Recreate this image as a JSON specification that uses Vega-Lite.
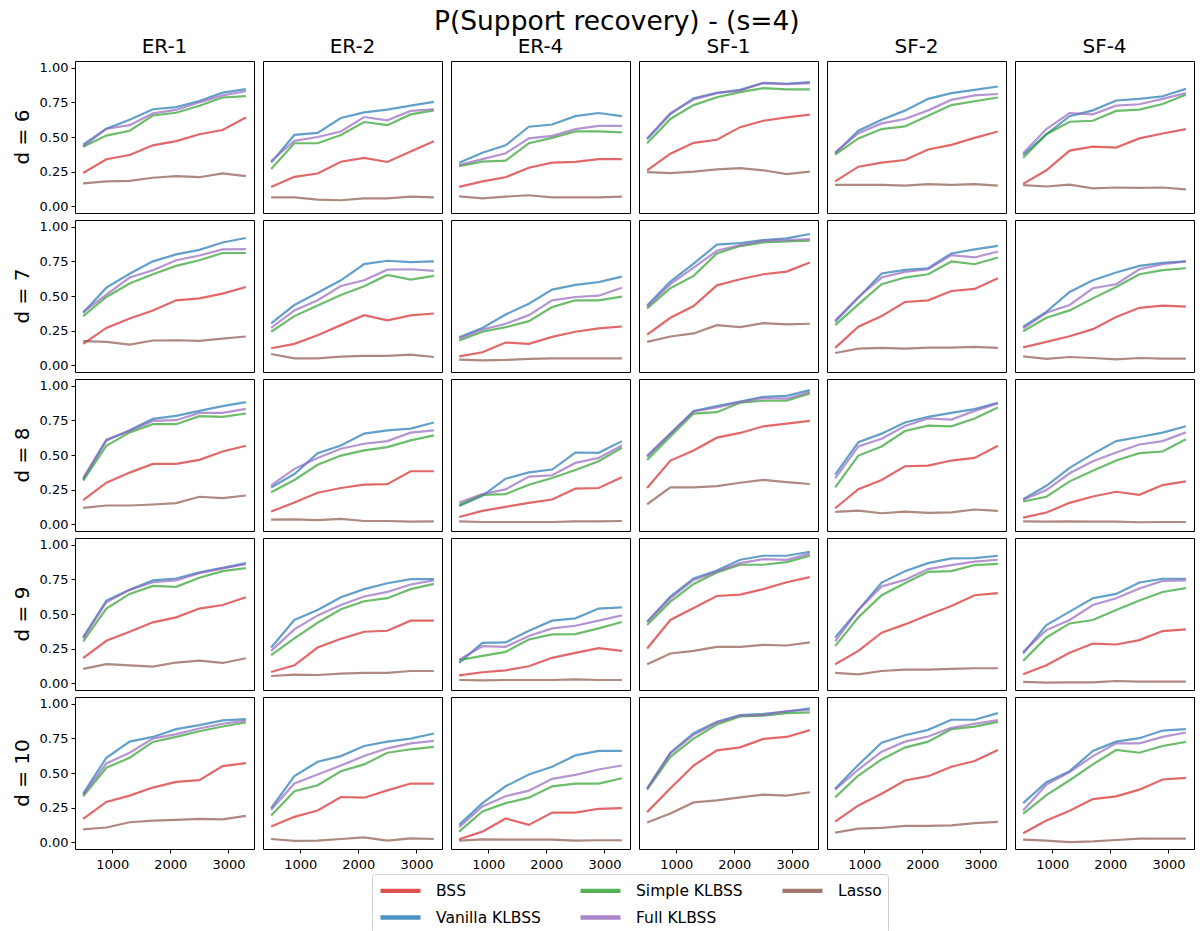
{
"$schema":"https://vega.github.io/schema/vega-lite/v6.json",
"padding":{"left":13,"right":2,"top":8,"bottom":0},
"title":{"text":"P(Support recovery) - (s=4)","fontSize":26.5,"font":"DejaVu Sans","fontWeight":"normal","anchor":"middle","offset":2,"dx":13,"color":"#000"},
"config":{
"font":"DejaVu Sans",
"view":{"stroke":"#000","strokeWidth":1},
"axis":{"grid":false,"domain":false,"tickColor":"#000","labelColor":"#000","labelFont":"DejaVu Sans","labelFontSize":13,"tickSize":4,"labelPadding":3,"title":null},
"header":{"labelFont":"DejaVu Sans","labelFontSize":20,"labelColor":"#000","title":null}
},
"data":{"values":[
{"d":6,"g":"ER-1","m":"BSS","n":500,"p":0.24},{"d":6,"g":"ER-1","m":"BSS","n":900,"p":0.34},{"d":6,"g":"ER-1","m":"BSS","n":1300,"p":0.37},{"d":6,"g":"ER-1","m":"BSS","n":1700,"p":0.44},{"d":6,"g":"ER-1","m":"BSS","n":2100,"p":0.47},{"d":6,"g":"ER-1","m":"BSS","n":2500,"p":0.52},{"d":6,"g":"ER-1","m":"BSS","n":2900,"p":0.55},{"d":6,"g":"ER-1","m":"BSS","n":3300,"p":0.64},
{"d":6,"g":"ER-1","m":"Vanilla KLBSS","n":500,"p":0.445},{"d":6,"g":"ER-1","m":"Vanilla KLBSS","n":900,"p":0.56},{"d":6,"g":"ER-1","m":"Vanilla KLBSS","n":1300,"p":0.625},{"d":6,"g":"ER-1","m":"Vanilla KLBSS","n":1700,"p":0.7},{"d":6,"g":"ER-1","m":"Vanilla KLBSS","n":2100,"p":0.715},{"d":6,"g":"ER-1","m":"Vanilla KLBSS","n":2500,"p":0.76},{"d":6,"g":"ER-1","m":"Vanilla KLBSS","n":2900,"p":0.82},{"d":6,"g":"ER-1","m":"Vanilla KLBSS","n":3300,"p":0.845},
{"d":6,"g":"ER-1","m":"Simple KLBSS","n":500,"p":0.43},{"d":6,"g":"ER-1","m":"Simple KLBSS","n":900,"p":0.51},{"d":6,"g":"ER-1","m":"Simple KLBSS","n":1300,"p":0.545},{"d":6,"g":"ER-1","m":"Simple KLBSS","n":1700,"p":0.655},{"d":6,"g":"ER-1","m":"Simple KLBSS","n":2100,"p":0.675},{"d":6,"g":"ER-1","m":"Simple KLBSS","n":2500,"p":0.725},{"d":6,"g":"ER-1","m":"Simple KLBSS","n":2900,"p":0.785},{"d":6,"g":"ER-1","m":"Simple KLBSS","n":3300,"p":0.795},
{"d":6,"g":"ER-1","m":"Full KLBSS","n":500,"p":0.43},{"d":6,"g":"ER-1","m":"Full KLBSS","n":900,"p":0.56},{"d":6,"g":"ER-1","m":"Full KLBSS","n":1300,"p":0.585},{"d":6,"g":"ER-1","m":"Full KLBSS","n":1700,"p":0.67},{"d":6,"g":"ER-1","m":"Full KLBSS","n":2100,"p":0.695},{"d":6,"g":"ER-1","m":"Full KLBSS","n":2500,"p":0.75},{"d":6,"g":"ER-1","m":"Full KLBSS","n":2900,"p":0.8},{"d":6,"g":"ER-1","m":"Full KLBSS","n":3300,"p":0.83},
{"d":6,"g":"ER-1","m":"Lasso","n":500,"p":0.165},{"d":6,"g":"ER-1","m":"Lasso","n":900,"p":0.18},{"d":6,"g":"ER-1","m":"Lasso","n":1300,"p":0.184},{"d":6,"g":"ER-1","m":"Lasso","n":1700,"p":0.206},{"d":6,"g":"ER-1","m":"Lasso","n":2100,"p":0.218},{"d":6,"g":"ER-1","m":"Lasso","n":2500,"p":0.21},{"d":6,"g":"ER-1","m":"Lasso","n":2900,"p":0.237},{"d":6,"g":"ER-1","m":"Lasso","n":3300,"p":0.218},
{"d":6,"g":"ER-2","m":"BSS","n":500,"p":0.14},{"d":6,"g":"ER-2","m":"BSS","n":900,"p":0.213},{"d":6,"g":"ER-2","m":"BSS","n":1300,"p":0.237},{"d":6,"g":"ER-2","m":"BSS","n":1700,"p":0.322},{"d":6,"g":"ER-2","m":"BSS","n":2100,"p":0.349},{"d":6,"g":"ER-2","m":"BSS","n":2500,"p":0.32},{"d":6,"g":"ER-2","m":"BSS","n":2900,"p":0.395},{"d":6,"g":"ER-2","m":"BSS","n":3300,"p":0.47},
{"d":6,"g":"ER-2","m":"Vanilla KLBSS","n":500,"p":0.315},{"d":6,"g":"ER-2","m":"Vanilla KLBSS","n":900,"p":0.515},{"d":6,"g":"ER-2","m":"Vanilla KLBSS","n":1300,"p":0.53},{"d":6,"g":"ER-2","m":"Vanilla KLBSS","n":1700,"p":0.637},{"d":6,"g":"ER-2","m":"Vanilla KLBSS","n":2100,"p":0.678},{"d":6,"g":"ER-2","m":"Vanilla KLBSS","n":2500,"p":0.697},{"d":6,"g":"ER-2","m":"Vanilla KLBSS","n":2900,"p":0.726},{"d":6,"g":"ER-2","m":"Vanilla KLBSS","n":3300,"p":0.753},
{"d":6,"g":"ER-2","m":"Simple KLBSS","n":500,"p":0.27},{"d":6,"g":"ER-2","m":"Simple KLBSS","n":900,"p":0.455},{"d":6,"g":"ER-2","m":"Simple KLBSS","n":1300,"p":0.455},{"d":6,"g":"ER-2","m":"Simple KLBSS","n":1700,"p":0.515},{"d":6,"g":"ER-2","m":"Simple KLBSS","n":2100,"p":0.608},{"d":6,"g":"ER-2","m":"Simple KLBSS","n":2500,"p":0.585},{"d":6,"g":"ER-2","m":"Simple KLBSS","n":2900,"p":0.663},{"d":6,"g":"ER-2","m":"Simple KLBSS","n":3300,"p":0.692},
{"d":6,"g":"ER-2","m":"Full KLBSS","n":500,"p":0.327},{"d":6,"g":"ER-2","m":"Full KLBSS","n":900,"p":0.472},{"d":6,"g":"ER-2","m":"Full KLBSS","n":1300,"p":0.5},{"d":6,"g":"ER-2","m":"Full KLBSS","n":1700,"p":0.54},{"d":6,"g":"ER-2","m":"Full KLBSS","n":2100,"p":0.644},{"d":6,"g":"ER-2","m":"Full KLBSS","n":2500,"p":0.62},{"d":6,"g":"ER-2","m":"Full KLBSS","n":2900,"p":0.688},{"d":6,"g":"ER-2","m":"Full KLBSS","n":3300,"p":0.7},
{"d":6,"g":"ER-2","m":"Lasso","n":500,"p":0.065},{"d":6,"g":"ER-2","m":"Lasso","n":900,"p":0.065},{"d":6,"g":"ER-2","m":"Lasso","n":1300,"p":0.048},{"d":6,"g":"ER-2","m":"Lasso","n":1700,"p":0.044},{"d":6,"g":"ER-2","m":"Lasso","n":2100,"p":0.058},{"d":6,"g":"ER-2","m":"Lasso","n":2500,"p":0.058},{"d":6,"g":"ER-2","m":"Lasso","n":2900,"p":0.07},{"d":6,"g":"ER-2","m":"Lasso","n":3300,"p":0.065},
{"d":6,"g":"ER-4","m":"BSS","n":500,"p":0.14},{"d":6,"g":"ER-4","m":"BSS","n":900,"p":0.18},{"d":6,"g":"ER-4","m":"BSS","n":1300,"p":0.21},{"d":6,"g":"ER-4","m":"BSS","n":1700,"p":0.278},{"d":6,"g":"ER-4","m":"BSS","n":2100,"p":0.315},{"d":6,"g":"ER-4","m":"BSS","n":2500,"p":0.32},{"d":6,"g":"ER-4","m":"BSS","n":2900,"p":0.341},{"d":6,"g":"ER-4","m":"BSS","n":3300,"p":0.341},
{"d":6,"g":"ER-4","m":"Vanilla KLBSS","n":500,"p":0.315},{"d":6,"g":"ER-4","m":"Vanilla KLBSS","n":900,"p":0.387},{"d":6,"g":"ER-4","m":"Vanilla KLBSS","n":1300,"p":0.44},{"d":6,"g":"ER-4","m":"Vanilla KLBSS","n":1700,"p":0.574},{"d":6,"g":"ER-4","m":"Vanilla KLBSS","n":2100,"p":0.59},{"d":6,"g":"ER-4","m":"Vanilla KLBSS","n":2500,"p":0.65},{"d":6,"g":"ER-4","m":"Vanilla KLBSS","n":2900,"p":0.673},{"d":6,"g":"ER-4","m":"Vanilla KLBSS","n":3300,"p":0.65},
{"d":6,"g":"ER-4","m":"Simple KLBSS","n":500,"p":0.29},{"d":6,"g":"ER-4","m":"Simple KLBSS","n":900,"p":0.322},{"d":6,"g":"ER-4","m":"Simple KLBSS","n":1300,"p":0.33},{"d":6,"g":"ER-4","m":"Simple KLBSS","n":1700,"p":0.455},{"d":6,"g":"ER-4","m":"Simple KLBSS","n":2100,"p":0.494},{"d":6,"g":"ER-4","m":"Simple KLBSS","n":2500,"p":0.54},{"d":6,"g":"ER-4","m":"Simple KLBSS","n":2900,"p":0.54},{"d":6,"g":"ER-4","m":"Simple KLBSS","n":3300,"p":0.533},
{"d":6,"g":"ER-4","m":"Full KLBSS","n":500,"p":0.298},{"d":6,"g":"ER-4","m":"Full KLBSS","n":900,"p":0.34},{"d":6,"g":"ER-4","m":"Full KLBSS","n":1300,"p":0.383},{"d":6,"g":"ER-4","m":"Full KLBSS","n":1700,"p":0.49},{"d":6,"g":"ER-4","m":"Full KLBSS","n":2100,"p":0.508},{"d":6,"g":"ER-4","m":"Full KLBSS","n":2500,"p":0.557},{"d":6,"g":"ER-4","m":"Full KLBSS","n":2900,"p":0.58},{"d":6,"g":"ER-4","m":"Full KLBSS","n":3300,"p":0.58},
{"d":6,"g":"ER-4","m":"Lasso","n":500,"p":0.072},{"d":6,"g":"ER-4","m":"Lasso","n":900,"p":0.058},{"d":6,"g":"ER-4","m":"Lasso","n":1300,"p":0.07},{"d":6,"g":"ER-4","m":"Lasso","n":1700,"p":0.08},{"d":6,"g":"ER-4","m":"Lasso","n":2100,"p":0.065},{"d":6,"g":"ER-4","m":"Lasso","n":2500,"p":0.065},{"d":6,"g":"ER-4","m":"Lasso","n":2900,"p":0.065},{"d":6,"g":"ER-4","m":"Lasso","n":3300,"p":0.07},
{"d":6,"g":"SF-1","m":"BSS","n":500,"p":0.26},{"d":6,"g":"SF-1","m":"BSS","n":900,"p":0.38},{"d":6,"g":"SF-1","m":"BSS","n":1300,"p":0.458},{"d":6,"g":"SF-1","m":"BSS","n":1700,"p":0.48},{"d":6,"g":"SF-1","m":"BSS","n":2100,"p":0.571},{"d":6,"g":"SF-1","m":"BSS","n":2500,"p":0.617},{"d":6,"g":"SF-1","m":"BSS","n":2900,"p":0.642},{"d":6,"g":"SF-1","m":"BSS","n":3300,"p":0.661},
{"d":6,"g":"SF-1","m":"Vanilla KLBSS","n":500,"p":0.484},{"d":6,"g":"SF-1","m":"Vanilla KLBSS","n":900,"p":0.666},{"d":6,"g":"SF-1","m":"Vanilla KLBSS","n":1300,"p":0.78},{"d":6,"g":"SF-1","m":"Vanilla KLBSS","n":1700,"p":0.818},{"d":6,"g":"SF-1","m":"Vanilla KLBSS","n":2100,"p":0.84},{"d":6,"g":"SF-1","m":"Vanilla KLBSS","n":2500,"p":0.89},{"d":6,"g":"SF-1","m":"Vanilla KLBSS","n":2900,"p":0.884},{"d":6,"g":"SF-1","m":"Vanilla KLBSS","n":3300,"p":0.896},
{"d":6,"g":"SF-1","m":"Simple KLBSS","n":500,"p":0.455},{"d":6,"g":"SF-1","m":"Simple KLBSS","n":900,"p":0.63},{"d":6,"g":"SF-1","m":"Simple KLBSS","n":1300,"p":0.73},{"d":6,"g":"SF-1","m":"Simple KLBSS","n":1700,"p":0.787},{"d":6,"g":"SF-1","m":"Simple KLBSS","n":2100,"p":0.823},{"d":6,"g":"SF-1","m":"Simple KLBSS","n":2500,"p":0.852},{"d":6,"g":"SF-1","m":"Simple KLBSS","n":2900,"p":0.843},{"d":6,"g":"SF-1","m":"Simple KLBSS","n":3300,"p":0.843},
{"d":6,"g":"SF-1","m":"Full KLBSS","n":500,"p":0.49},{"d":6,"g":"SF-1","m":"Full KLBSS","n":900,"p":0.673},{"d":6,"g":"SF-1","m":"Full KLBSS","n":1300,"p":0.77},{"d":6,"g":"SF-1","m":"Full KLBSS","n":1700,"p":0.816},{"d":6,"g":"SF-1","m":"Full KLBSS","n":2100,"p":0.835},{"d":6,"g":"SF-1","m":"Full KLBSS","n":2500,"p":0.889},{"d":6,"g":"SF-1","m":"Full KLBSS","n":2900,"p":0.881},{"d":6,"g":"SF-1","m":"Full KLBSS","n":3300,"p":0.889},
{"d":6,"g":"SF-1","m":"Lasso","n":500,"p":0.247},{"d":6,"g":"SF-1","m":"Lasso","n":900,"p":0.24},{"d":6,"g":"SF-1","m":"Lasso","n":1300,"p":0.25},{"d":6,"g":"SF-1","m":"Lasso","n":1700,"p":0.266},{"d":6,"g":"SF-1","m":"Lasso","n":2100,"p":0.276},{"d":6,"g":"SF-1","m":"Lasso","n":2500,"p":0.26},{"d":6,"g":"SF-1","m":"Lasso","n":2900,"p":0.232},{"d":6,"g":"SF-1","m":"Lasso","n":3300,"p":0.25},
{"d":6,"g":"SF-2","m":"BSS","n":500,"p":0.18},{"d":6,"g":"SF-2","m":"BSS","n":900,"p":0.286},{"d":6,"g":"SF-2","m":"BSS","n":1300,"p":0.315},{"d":6,"g":"SF-2","m":"BSS","n":1700,"p":0.334},{"d":6,"g":"SF-2","m":"BSS","n":2100,"p":0.41},{"d":6,"g":"SF-2","m":"BSS","n":2500,"p":0.443},{"d":6,"g":"SF-2","m":"BSS","n":2900,"p":0.494},{"d":6,"g":"SF-2","m":"BSS","n":3300,"p":0.54},
{"d":6,"g":"SF-2","m":"Vanilla KLBSS","n":500,"p":0.383},{"d":6,"g":"SF-2","m":"Vanilla KLBSS","n":900,"p":0.545},{"d":6,"g":"SF-2","m":"Vanilla KLBSS","n":1300,"p":0.625},{"d":6,"g":"SF-2","m":"Vanilla KLBSS","n":1700,"p":0.69},{"d":6,"g":"SF-2","m":"Vanilla KLBSS","n":2100,"p":0.775},{"d":6,"g":"SF-2","m":"Vanilla KLBSS","n":2500,"p":0.816},{"d":6,"g":"SF-2","m":"Vanilla KLBSS","n":2900,"p":0.84},{"d":6,"g":"SF-2","m":"Vanilla KLBSS","n":3300,"p":0.864},
{"d":6,"g":"SF-2","m":"Simple KLBSS","n":500,"p":0.373},{"d":6,"g":"SF-2","m":"Simple KLBSS","n":900,"p":0.49},{"d":6,"g":"SF-2","m":"Simple KLBSS","n":1300,"p":0.557},{"d":6,"g":"SF-2","m":"Simple KLBSS","n":1700,"p":0.576},{"d":6,"g":"SF-2","m":"Simple KLBSS","n":2100,"p":0.654},{"d":6,"g":"SF-2","m":"Simple KLBSS","n":2500,"p":0.73},{"d":6,"g":"SF-2","m":"Simple KLBSS","n":2900,"p":0.758},{"d":6,"g":"SF-2","m":"Simple KLBSS","n":3300,"p":0.785},
{"d":6,"g":"SF-2","m":"Full KLBSS","n":500,"p":0.387},{"d":6,"g":"SF-2","m":"Full KLBSS","n":900,"p":0.528},{"d":6,"g":"SF-2","m":"Full KLBSS","n":1300,"p":0.598},{"d":6,"g":"SF-2","m":"Full KLBSS","n":1700,"p":0.63},{"d":6,"g":"SF-2","m":"Full KLBSS","n":2100,"p":0.692},{"d":6,"g":"SF-2","m":"Full KLBSS","n":2500,"p":0.768},{"d":6,"g":"SF-2","m":"Full KLBSS","n":2900,"p":0.8},{"d":6,"g":"SF-2","m":"Full KLBSS","n":3300,"p":0.81},
{"d":6,"g":"SF-2","m":"Lasso","n":500,"p":0.155},{"d":6,"g":"SF-2","m":"Lasso","n":900,"p":0.155},{"d":6,"g":"SF-2","m":"Lasso","n":1300,"p":0.155},{"d":6,"g":"SF-2","m":"Lasso","n":1700,"p":0.15},{"d":6,"g":"SF-2","m":"Lasso","n":2100,"p":0.16},{"d":6,"g":"SF-2","m":"Lasso","n":2500,"p":0.155},{"d":6,"g":"SF-2","m":"Lasso","n":2900,"p":0.16},{"d":6,"g":"SF-2","m":"Lasso","n":3300,"p":0.15},
{"d":6,"g":"SF-4","m":"BSS","n":500,"p":0.162},{"d":6,"g":"SF-4","m":"BSS","n":900,"p":0.26},{"d":6,"g":"SF-4","m":"BSS","n":1300,"p":0.402},{"d":6,"g":"SF-4","m":"BSS","n":1700,"p":0.43},{"d":6,"g":"SF-4","m":"BSS","n":2100,"p":0.424},{"d":6,"g":"SF-4","m":"BSS","n":2500,"p":0.49},{"d":6,"g":"SF-4","m":"BSS","n":2900,"p":0.525},{"d":6,"g":"SF-4","m":"BSS","n":3300,"p":0.557},
{"d":6,"g":"SF-4","m":"Vanilla KLBSS","n":500,"p":0.37},{"d":6,"g":"SF-4","m":"Vanilla KLBSS","n":900,"p":0.52},{"d":6,"g":"SF-4","m":"Vanilla KLBSS","n":1300,"p":0.65},{"d":6,"g":"SF-4","m":"Vanilla KLBSS","n":1700,"p":0.692},{"d":6,"g":"SF-4","m":"Vanilla KLBSS","n":2100,"p":0.763},{"d":6,"g":"SF-4","m":"Vanilla KLBSS","n":2500,"p":0.775},{"d":6,"g":"SF-4","m":"Vanilla KLBSS","n":2900,"p":0.794},{"d":6,"g":"SF-4","m":"Vanilla KLBSS","n":3300,"p":0.847},
{"d":6,"g":"SF-4","m":"Simple KLBSS","n":500,"p":0.351},{"d":6,"g":"SF-4","m":"Simple KLBSS","n":900,"p":0.52},{"d":6,"g":"SF-4","m":"Simple KLBSS","n":1300,"p":0.61},{"d":6,"g":"SF-4","m":"Simple KLBSS","n":1700,"p":0.617},{"d":6,"g":"SF-4","m":"Simple KLBSS","n":2100,"p":0.688},{"d":6,"g":"SF-4","m":"Simple KLBSS","n":2500,"p":0.697},{"d":6,"g":"SF-4","m":"Simple KLBSS","n":2900,"p":0.738},{"d":6,"g":"SF-4","m":"Simple KLBSS","n":3300,"p":0.804},
{"d":6,"g":"SF-4","m":"Full KLBSS","n":500,"p":0.383},{"d":6,"g":"SF-4","m":"Full KLBSS","n":900,"p":0.557},{"d":6,"g":"SF-4","m":"Full KLBSS","n":1300,"p":0.673},{"d":6,"g":"SF-4","m":"Full KLBSS","n":1700,"p":0.663},{"d":6,"g":"SF-4","m":"Full KLBSS","n":2100,"p":0.726},{"d":6,"g":"SF-4","m":"Full KLBSS","n":2500,"p":0.736},{"d":6,"g":"SF-4","m":"Full KLBSS","n":2900,"p":0.775},{"d":6,"g":"SF-4","m":"Full KLBSS","n":3300,"p":0.816},
{"d":6,"g":"SF-4","m":"Lasso","n":500,"p":0.153},{"d":6,"g":"SF-4","m":"Lasso","n":900,"p":0.143},{"d":6,"g":"SF-4","m":"Lasso","n":1300,"p":0.157},{"d":6,"g":"SF-4","m":"Lasso","n":1700,"p":0.13},{"d":6,"g":"SF-4","m":"Lasso","n":2100,"p":0.136},{"d":6,"g":"SF-4","m":"Lasso","n":2500,"p":0.133},{"d":6,"g":"SF-4","m":"Lasso","n":2900,"p":0.136},{"d":6,"g":"SF-4","m":"Lasso","n":3300,"p":0.123},
{"d":7,"g":"ER-1","m":"BSS","n":500,"p":0.155},{"d":7,"g":"ER-1","m":"BSS","n":900,"p":0.27},{"d":7,"g":"ER-1","m":"BSS","n":1300,"p":0.338},{"d":7,"g":"ER-1","m":"BSS","n":1700,"p":0.396},{"d":7,"g":"ER-1","m":"BSS","n":2100,"p":0.469},{"d":7,"g":"ER-1","m":"BSS","n":2500,"p":0.483},{"d":7,"g":"ER-1","m":"BSS","n":2900,"p":0.517},{"d":7,"g":"ER-1","m":"BSS","n":3300,"p":0.565},
{"d":7,"g":"ER-1","m":"Vanilla KLBSS","n":500,"p":0.38},{"d":7,"g":"ER-1","m":"Vanilla KLBSS","n":900,"p":0.56},{"d":7,"g":"ER-1","m":"Vanilla KLBSS","n":1300,"p":0.66},{"d":7,"g":"ER-1","m":"Vanilla KLBSS","n":1700,"p":0.75},{"d":7,"g":"ER-1","m":"Vanilla KLBSS","n":2100,"p":0.8},{"d":7,"g":"ER-1","m":"Vanilla KLBSS","n":2500,"p":0.833},{"d":7,"g":"ER-1","m":"Vanilla KLBSS","n":2900,"p":0.886},{"d":7,"g":"ER-1","m":"Vanilla KLBSS","n":3300,"p":0.918},
{"d":7,"g":"ER-1","m":"Simple KLBSS","n":500,"p":0.355},{"d":7,"g":"ER-1","m":"Simple KLBSS","n":900,"p":0.493},{"d":7,"g":"ER-1","m":"Simple KLBSS","n":1300,"p":0.59},{"d":7,"g":"ER-1","m":"Simple KLBSS","n":1700,"p":0.657},{"d":7,"g":"ER-1","m":"Simple KLBSS","n":2100,"p":0.717},{"d":7,"g":"ER-1","m":"Simple KLBSS","n":2500,"p":0.758},{"d":7,"g":"ER-1","m":"Simple KLBSS","n":2900,"p":0.81},{"d":7,"g":"ER-1","m":"Simple KLBSS","n":3300,"p":0.81},
{"d":7,"g":"ER-1","m":"Full KLBSS","n":500,"p":0.384},{"d":7,"g":"ER-1","m":"Full KLBSS","n":900,"p":0.51},{"d":7,"g":"ER-1","m":"Full KLBSS","n":1300,"p":0.633},{"d":7,"g":"ER-1","m":"Full KLBSS","n":1700,"p":0.686},{"d":7,"g":"ER-1","m":"Full KLBSS","n":2100,"p":0.758},{"d":7,"g":"ER-1","m":"Full KLBSS","n":2500,"p":0.792},{"d":7,"g":"ER-1","m":"Full KLBSS","n":2900,"p":0.836},{"d":7,"g":"ER-1","m":"Full KLBSS","n":3300,"p":0.838},
{"d":7,"g":"ER-1","m":"Lasso","n":500,"p":0.174},{"d":7,"g":"ER-1","m":"Lasso","n":900,"p":0.169},{"d":7,"g":"ER-1","m":"Lasso","n":1300,"p":0.15},{"d":7,"g":"ER-1","m":"Lasso","n":1700,"p":0.179},{"d":7,"g":"ER-1","m":"Lasso","n":2100,"p":0.181},{"d":7,"g":"ER-1","m":"Lasso","n":2500,"p":0.176},{"d":7,"g":"ER-1","m":"Lasso","n":2900,"p":0.193},{"d":7,"g":"ER-1","m":"Lasso","n":3300,"p":0.208},
{"d":7,"g":"ER-2","m":"BSS","n":500,"p":0.123},{"d":7,"g":"ER-2","m":"BSS","n":900,"p":0.155},{"d":7,"g":"ER-2","m":"BSS","n":1300,"p":0.217},{"d":7,"g":"ER-2","m":"BSS","n":1700,"p":0.29},{"d":7,"g":"ER-2","m":"BSS","n":2100,"p":0.362},{"d":7,"g":"ER-2","m":"BSS","n":2500,"p":0.324},{"d":7,"g":"ER-2","m":"BSS","n":2900,"p":0.36},{"d":7,"g":"ER-2","m":"BSS","n":3300,"p":0.374},
{"d":7,"g":"ER-2","m":"Vanilla KLBSS","n":500,"p":0.302},{"d":7,"g":"ER-2","m":"Vanilla KLBSS","n":900,"p":0.435},{"d":7,"g":"ER-2","m":"Vanilla KLBSS","n":1300,"p":0.524},{"d":7,"g":"ER-2","m":"Vanilla KLBSS","n":1700,"p":0.613},{"d":7,"g":"ER-2","m":"Vanilla KLBSS","n":2100,"p":0.73},{"d":7,"g":"ER-2","m":"Vanilla KLBSS","n":2500,"p":0.754},{"d":7,"g":"ER-2","m":"Vanilla KLBSS","n":2900,"p":0.744},{"d":7,"g":"ER-2","m":"Vanilla KLBSS","n":3300,"p":0.749},
{"d":7,"g":"ER-2","m":"Simple KLBSS","n":500,"p":0.242},{"d":7,"g":"ER-2","m":"Simple KLBSS","n":900,"p":0.355},{"d":7,"g":"ER-2","m":"Simple KLBSS","n":1300,"p":0.432},{"d":7,"g":"ER-2","m":"Simple KLBSS","n":1700,"p":0.507},{"d":7,"g":"ER-2","m":"Simple KLBSS","n":2100,"p":0.57},{"d":7,"g":"ER-2","m":"Simple KLBSS","n":2500,"p":0.652},{"d":7,"g":"ER-2","m":"Simple KLBSS","n":2900,"p":0.618},{"d":7,"g":"ER-2","m":"Simple KLBSS","n":3300,"p":0.645},
{"d":7,"g":"ER-2","m":"Full KLBSS","n":500,"p":0.27},{"d":7,"g":"ER-2","m":"Full KLBSS","n":900,"p":0.396},{"d":7,"g":"ER-2","m":"Full KLBSS","n":1300,"p":0.469},{"d":7,"g":"ER-2","m":"Full KLBSS","n":1700,"p":0.572},{"d":7,"g":"ER-2","m":"Full KLBSS","n":2100,"p":0.613},{"d":7,"g":"ER-2","m":"Full KLBSS","n":2500,"p":0.69},{"d":7,"g":"ER-2","m":"Full KLBSS","n":2900,"p":0.693},{"d":7,"g":"ER-2","m":"Full KLBSS","n":3300,"p":0.681},
{"d":7,"g":"ER-2","m":"Lasso","n":500,"p":0.082},{"d":7,"g":"ER-2","m":"Lasso","n":900,"p":0.05},{"d":7,"g":"ER-2","m":"Lasso","n":1300,"p":0.05},{"d":7,"g":"ER-2","m":"Lasso","n":1700,"p":0.063},{"d":7,"g":"ER-2","m":"Lasso","n":2100,"p":0.068},{"d":7,"g":"ER-2","m":"Lasso","n":2500,"p":0.068},{"d":7,"g":"ER-2","m":"Lasso","n":2900,"p":0.077},{"d":7,"g":"ER-2","m":"Lasso","n":3300,"p":0.06},
{"d":7,"g":"ER-4","m":"BSS","n":500,"p":0.065},{"d":7,"g":"ER-4","m":"BSS","n":900,"p":0.094},{"d":7,"g":"ER-4","m":"BSS","n":1300,"p":0.164},{"d":7,"g":"ER-4","m":"BSS","n":1700,"p":0.155},{"d":7,"g":"ER-4","m":"BSS","n":2100,"p":0.205},{"d":7,"g":"ER-4","m":"BSS","n":2500,"p":0.242},{"d":7,"g":"ER-4","m":"BSS","n":2900,"p":0.266},{"d":7,"g":"ER-4","m":"BSS","n":3300,"p":0.28},
{"d":7,"g":"ER-4","m":"Vanilla KLBSS","n":500,"p":0.203},{"d":7,"g":"ER-4","m":"Vanilla KLBSS","n":900,"p":0.27},{"d":7,"g":"ER-4","m":"Vanilla KLBSS","n":1300,"p":0.367},{"d":7,"g":"ER-4","m":"Vanilla KLBSS","n":1700,"p":0.444},{"d":7,"g":"ER-4","m":"Vanilla KLBSS","n":2100,"p":0.546},{"d":7,"g":"ER-4","m":"Vanilla KLBSS","n":2500,"p":0.58},{"d":7,"g":"ER-4","m":"Vanilla KLBSS","n":2900,"p":0.6},{"d":7,"g":"ER-4","m":"Vanilla KLBSS","n":3300,"p":0.64},
{"d":7,"g":"ER-4","m":"Simple KLBSS","n":500,"p":0.179},{"d":7,"g":"ER-4","m":"Simple KLBSS","n":900,"p":0.242},{"d":7,"g":"ER-4","m":"Simple KLBSS","n":1300,"p":0.275},{"d":7,"g":"ER-4","m":"Simple KLBSS","n":1700,"p":0.319},{"d":7,"g":"ER-4","m":"Simple KLBSS","n":2100,"p":0.42},{"d":7,"g":"ER-4","m":"Simple KLBSS","n":2500,"p":0.469},{"d":7,"g":"ER-4","m":"Simple KLBSS","n":2900,"p":0.469},{"d":7,"g":"ER-4","m":"Simple KLBSS","n":3300,"p":0.495},
{"d":7,"g":"ER-4","m":"Full KLBSS","n":500,"p":0.193},{"d":7,"g":"ER-4","m":"Full KLBSS","n":900,"p":0.258},{"d":7,"g":"ER-4","m":"Full KLBSS","n":1300,"p":0.3},{"d":7,"g":"ER-4","m":"Full KLBSS","n":1700,"p":0.362},{"d":7,"g":"ER-4","m":"Full KLBSS","n":2100,"p":0.469},{"d":7,"g":"ER-4","m":"Full KLBSS","n":2500,"p":0.493},{"d":7,"g":"ER-4","m":"Full KLBSS","n":2900,"p":0.502},{"d":7,"g":"ER-4","m":"Full KLBSS","n":3300,"p":0.56},
{"d":7,"g":"ER-4","m":"Lasso","n":500,"p":0.041},{"d":7,"g":"ER-4","m":"Lasso","n":900,"p":0.036},{"d":7,"g":"ER-4","m":"Lasso","n":1300,"p":0.039},{"d":7,"g":"ER-4","m":"Lasso","n":1700,"p":0.046},{"d":7,"g":"ER-4","m":"Lasso","n":2100,"p":0.05},{"d":7,"g":"ER-4","m":"Lasso","n":2500,"p":0.05},{"d":7,"g":"ER-4","m":"Lasso","n":2900,"p":0.05},{"d":7,"g":"ER-4","m":"Lasso","n":3300,"p":0.05},
{"d":7,"g":"SF-1","m":"BSS","n":500,"p":0.222},{"d":7,"g":"SF-1","m":"BSS","n":900,"p":0.343},{"d":7,"g":"SF-1","m":"BSS","n":1300,"p":0.428},{"d":7,"g":"SF-1","m":"BSS","n":1700,"p":0.577},{"d":7,"g":"SF-1","m":"BSS","n":2100,"p":0.621},{"d":7,"g":"SF-1","m":"BSS","n":2500,"p":0.657},{"d":7,"g":"SF-1","m":"BSS","n":2900,"p":0.676},{"d":7,"g":"SF-1","m":"BSS","n":3300,"p":0.742},
{"d":7,"g":"SF-1","m":"Vanilla KLBSS","n":500,"p":0.432},{"d":7,"g":"SF-1","m":"Vanilla KLBSS","n":900,"p":0.604},{"d":7,"g":"SF-1","m":"Vanilla KLBSS","n":1300,"p":0.734},{"d":7,"g":"SF-1","m":"Vanilla KLBSS","n":1700,"p":0.87},{"d":7,"g":"SF-1","m":"Vanilla KLBSS","n":2100,"p":0.882},{"d":7,"g":"SF-1","m":"Vanilla KLBSS","n":2500,"p":0.903},{"d":7,"g":"SF-1","m":"Vanilla KLBSS","n":2900,"p":0.915},{"d":7,"g":"SF-1","m":"Vanilla KLBSS","n":3300,"p":0.947},
{"d":7,"g":"SF-1","m":"Simple KLBSS","n":500,"p":0.411},{"d":7,"g":"SF-1","m":"Simple KLBSS","n":900,"p":0.556},{"d":7,"g":"SF-1","m":"Simple KLBSS","n":1300,"p":0.645},{"d":7,"g":"SF-1","m":"Simple KLBSS","n":1700,"p":0.807},{"d":7,"g":"SF-1","m":"Simple KLBSS","n":2100,"p":0.86},{"d":7,"g":"SF-1","m":"Simple KLBSS","n":2500,"p":0.886},{"d":7,"g":"SF-1","m":"Simple KLBSS","n":2900,"p":0.894},{"d":7,"g":"SF-1","m":"Simple KLBSS","n":3300,"p":0.899},
{"d":7,"g":"SF-1","m":"Full KLBSS","n":500,"p":0.423},{"d":7,"g":"SF-1","m":"Full KLBSS","n":900,"p":0.585},{"d":7,"g":"SF-1","m":"Full KLBSS","n":1300,"p":0.705},{"d":7,"g":"SF-1","m":"Full KLBSS","n":1700,"p":0.826},{"d":7,"g":"SF-1","m":"Full KLBSS","n":2100,"p":0.867},{"d":7,"g":"SF-1","m":"Full KLBSS","n":2500,"p":0.899},{"d":7,"g":"SF-1","m":"Full KLBSS","n":2900,"p":0.903},{"d":7,"g":"SF-1","m":"Full KLBSS","n":3300,"p":0.911},
{"d":7,"g":"SF-1","m":"Lasso","n":500,"p":0.169},{"d":7,"g":"SF-1","m":"Lasso","n":900,"p":0.208},{"d":7,"g":"SF-1","m":"Lasso","n":1300,"p":0.23},{"d":7,"g":"SF-1","m":"Lasso","n":1700,"p":0.29},{"d":7,"g":"SF-1","m":"Lasso","n":2100,"p":0.275},{"d":7,"g":"SF-1","m":"Lasso","n":2500,"p":0.304},{"d":7,"g":"SF-1","m":"Lasso","n":2900,"p":0.295},{"d":7,"g":"SF-1","m":"Lasso","n":3300,"p":0.3},
{"d":7,"g":"SF-2","m":"BSS","n":500,"p":0.126},{"d":7,"g":"SF-2","m":"BSS","n":900,"p":0.278},{"d":7,"g":"SF-2","m":"BSS","n":1300,"p":0.355},{"d":7,"g":"SF-2","m":"BSS","n":1700,"p":0.457},{"d":7,"g":"SF-2","m":"BSS","n":2100,"p":0.469},{"d":7,"g":"SF-2","m":"BSS","n":2500,"p":0.536},{"d":7,"g":"SF-2","m":"BSS","n":2900,"p":0.551},{"d":7,"g":"SF-2","m":"BSS","n":3300,"p":0.628},
{"d":7,"g":"SF-2","m":"Vanilla KLBSS","n":500,"p":0.314},{"d":7,"g":"SF-2","m":"Vanilla KLBSS","n":900,"p":0.488},{"d":7,"g":"SF-2","m":"Vanilla KLBSS","n":1300,"p":0.662},{"d":7,"g":"SF-2","m":"Vanilla KLBSS","n":1700,"p":0.688},{"d":7,"g":"SF-2","m":"Vanilla KLBSS","n":2100,"p":0.7},{"d":7,"g":"SF-2","m":"Vanilla KLBSS","n":2500,"p":0.807},{"d":7,"g":"SF-2","m":"Vanilla KLBSS","n":2900,"p":0.836},{"d":7,"g":"SF-2","m":"Vanilla KLBSS","n":3300,"p":0.862},
{"d":7,"g":"SF-2","m":"Simple KLBSS","n":500,"p":0.29},{"d":7,"g":"SF-2","m":"Simple KLBSS","n":900,"p":0.44},{"d":7,"g":"SF-2","m":"Simple KLBSS","n":1300,"p":0.585},{"d":7,"g":"SF-2","m":"Simple KLBSS","n":1700,"p":0.633},{"d":7,"g":"SF-2","m":"Simple KLBSS","n":2100,"p":0.657},{"d":7,"g":"SF-2","m":"Simple KLBSS","n":2500,"p":0.749},{"d":7,"g":"SF-2","m":"Simple KLBSS","n":2900,"p":0.729},{"d":7,"g":"SF-2","m":"Simple KLBSS","n":3300,"p":0.778},
{"d":7,"g":"SF-2","m":"Full KLBSS","n":500,"p":0.324},{"d":7,"g":"SF-2","m":"Full KLBSS","n":900,"p":0.493},{"d":7,"g":"SF-2","m":"Full KLBSS","n":1300,"p":0.633},{"d":7,"g":"SF-2","m":"Full KLBSS","n":1700,"p":0.674},{"d":7,"g":"SF-2","m":"Full KLBSS","n":2100,"p":0.693},{"d":7,"g":"SF-2","m":"Full KLBSS","n":2500,"p":0.795},{"d":7,"g":"SF-2","m":"Full KLBSS","n":2900,"p":0.778},{"d":7,"g":"SF-2","m":"Full KLBSS","n":3300,"p":0.821},
{"d":7,"g":"SF-2","m":"Lasso","n":500,"p":0.089},{"d":7,"g":"SF-2","m":"Lasso","n":900,"p":0.121},{"d":7,"g":"SF-2","m":"Lasso","n":1300,"p":0.126},{"d":7,"g":"SF-2","m":"Lasso","n":1700,"p":0.121},{"d":7,"g":"SF-2","m":"Lasso","n":2100,"p":0.128},{"d":7,"g":"SF-2","m":"Lasso","n":2500,"p":0.128},{"d":7,"g":"SF-2","m":"Lasso","n":2900,"p":0.133},{"d":7,"g":"SF-2","m":"Lasso","n":3300,"p":0.126},
{"d":7,"g":"SF-4","m":"BSS","n":500,"p":0.13},{"d":7,"g":"SF-4","m":"BSS","n":900,"p":0.169},{"d":7,"g":"SF-4","m":"BSS","n":1300,"p":0.21},{"d":7,"g":"SF-4","m":"BSS","n":1700,"p":0.261},{"d":7,"g":"SF-4","m":"BSS","n":2100,"p":0.348},{"d":7,"g":"SF-4","m":"BSS","n":2500,"p":0.415},{"d":7,"g":"SF-4","m":"BSS","n":2900,"p":0.43},{"d":7,"g":"SF-4","m":"BSS","n":3300,"p":0.423},
{"d":7,"g":"SF-4","m":"Vanilla KLBSS","n":500,"p":0.278},{"d":7,"g":"SF-4","m":"Vanilla KLBSS","n":900,"p":0.386},{"d":7,"g":"SF-4","m":"Vanilla KLBSS","n":1300,"p":0.529},{"d":7,"g":"SF-4","m":"Vanilla KLBSS","n":1700,"p":0.613},{"d":7,"g":"SF-4","m":"Vanilla KLBSS","n":2100,"p":0.669},{"d":7,"g":"SF-4","m":"Vanilla KLBSS","n":2500,"p":0.717},{"d":7,"g":"SF-4","m":"Vanilla KLBSS","n":2900,"p":0.739},{"d":7,"g":"SF-4","m":"Vanilla KLBSS","n":3300,"p":0.749},
{"d":7,"g":"SF-4","m":"Simple KLBSS","n":500,"p":0.246},{"d":7,"g":"SF-4","m":"Simple KLBSS","n":900,"p":0.343},{"d":7,"g":"SF-4","m":"Simple KLBSS","n":1300,"p":0.396},{"d":7,"g":"SF-4","m":"Simple KLBSS","n":1700,"p":0.483},{"d":7,"g":"SF-4","m":"Simple KLBSS","n":2100,"p":0.565},{"d":7,"g":"SF-4","m":"Simple KLBSS","n":2500,"p":0.657},{"d":7,"g":"SF-4","m":"Simple KLBSS","n":2900,"p":0.686},{"d":7,"g":"SF-4","m":"Simple KLBSS","n":3300,"p":0.7},
{"d":7,"g":"SF-4","m":"Full KLBSS","n":500,"p":0.266},{"d":7,"g":"SF-4","m":"Full KLBSS","n":900,"p":0.379},{"d":7,"g":"SF-4","m":"Full KLBSS","n":1300,"p":0.435},{"d":7,"g":"SF-4","m":"Full KLBSS","n":1700,"p":0.556},{"d":7,"g":"SF-4","m":"Full KLBSS","n":2100,"p":0.585},{"d":7,"g":"SF-4","m":"Full KLBSS","n":2500,"p":0.693},{"d":7,"g":"SF-4","m":"Full KLBSS","n":2900,"p":0.729},{"d":7,"g":"SF-4","m":"Full KLBSS","n":3300,"p":0.749},
{"d":7,"g":"SF-4","m":"Lasso","n":500,"p":0.065},{"d":7,"g":"SF-4","m":"Lasso","n":900,"p":0.046},{"d":7,"g":"SF-4","m":"Lasso","n":1300,"p":0.06},{"d":7,"g":"SF-4","m":"Lasso","n":1700,"p":0.053},{"d":7,"g":"SF-4","m":"Lasso","n":2100,"p":0.043},{"d":7,"g":"SF-4","m":"Lasso","n":2500,"p":0.053},{"d":7,"g":"SF-4","m":"Lasso","n":2900,"p":0.048},{"d":7,"g":"SF-4","m":"Lasso","n":3300,"p":0.048},
{"d":8,"g":"ER-1","m":"BSS","n":500,"p":0.174},{"d":8,"g":"ER-1","m":"BSS","n":900,"p":0.3},{"d":8,"g":"ER-1","m":"BSS","n":1300,"p":0.373},{"d":8,"g":"ER-1","m":"BSS","n":1700,"p":0.436},{"d":8,"g":"ER-1","m":"BSS","n":2100,"p":0.436},{"d":8,"g":"ER-1","m":"BSS","n":2500,"p":0.465},{"d":8,"g":"ER-1","m":"BSS","n":2900,"p":0.525},{"d":8,"g":"ER-1","m":"BSS","n":3300,"p":0.567},
{"d":8,"g":"ER-1","m":"Vanilla KLBSS","n":500,"p":0.324},{"d":8,"g":"ER-1","m":"Vanilla KLBSS","n":900,"p":0.605},{"d":8,"g":"ER-1","m":"Vanilla KLBSS","n":1300,"p":0.678},{"d":8,"g":"ER-1","m":"Vanilla KLBSS","n":1700,"p":0.76},{"d":8,"g":"ER-1","m":"Vanilla KLBSS","n":2100,"p":0.782},{"d":8,"g":"ER-1","m":"Vanilla KLBSS","n":2500,"p":0.818},{"d":8,"g":"ER-1","m":"Vanilla KLBSS","n":2900,"p":0.852},{"d":8,"g":"ER-1","m":"Vanilla KLBSS","n":3300,"p":0.881},
{"d":8,"g":"ER-1","m":"Simple KLBSS","n":500,"p":0.315},{"d":8,"g":"ER-1","m":"Simple KLBSS","n":900,"p":0.567},{"d":8,"g":"ER-1","m":"Simple KLBSS","n":1300,"p":0.663},{"d":8,"g":"ER-1","m":"Simple KLBSS","n":1700,"p":0.722},{"d":8,"g":"ER-1","m":"Simple KLBSS","n":2100,"p":0.722},{"d":8,"g":"ER-1","m":"Simple KLBSS","n":2500,"p":0.78},{"d":8,"g":"ER-1","m":"Simple KLBSS","n":2900,"p":0.775},{"d":8,"g":"ER-1","m":"Simple KLBSS","n":3300,"p":0.799},
{"d":8,"g":"ER-1","m":"Full KLBSS","n":500,"p":0.334},{"d":8,"g":"ER-1","m":"Full KLBSS","n":900,"p":0.61},{"d":8,"g":"ER-1","m":"Full KLBSS","n":1300,"p":0.673},{"d":8,"g":"ER-1","m":"Full KLBSS","n":1700,"p":0.746},{"d":8,"g":"ER-1","m":"Full KLBSS","n":2100,"p":0.751},{"d":8,"g":"ER-1","m":"Full KLBSS","n":2500,"p":0.804},{"d":8,"g":"ER-1","m":"Full KLBSS","n":2900,"p":0.804},{"d":8,"g":"ER-1","m":"Full KLBSS","n":3300,"p":0.833},
{"d":8,"g":"ER-1","m":"Lasso","n":500,"p":0.119},{"d":8,"g":"ER-1","m":"Lasso","n":900,"p":0.136},{"d":8,"g":"ER-1","m":"Lasso","n":1300,"p":0.136},{"d":8,"g":"ER-1","m":"Lasso","n":1700,"p":0.143},{"d":8,"g":"ER-1","m":"Lasso","n":2100,"p":0.153},{"d":8,"g":"ER-1","m":"Lasso","n":2500,"p":0.199},{"d":8,"g":"ER-1","m":"Lasso","n":2900,"p":0.189},{"d":8,"g":"ER-1","m":"Lasso","n":3300,"p":0.208},
{"d":8,"g":"ER-2","m":"BSS","n":500,"p":0.092},{"d":8,"g":"ER-2","m":"BSS","n":900,"p":0.157},{"d":8,"g":"ER-2","m":"BSS","n":1300,"p":0.228},{"d":8,"g":"ER-2","m":"BSS","n":1700,"p":0.262},{"d":8,"g":"ER-2","m":"BSS","n":2100,"p":0.286},{"d":8,"g":"ER-2","m":"BSS","n":2500,"p":0.29},{"d":8,"g":"ER-2","m":"BSS","n":2900,"p":0.383},{"d":8,"g":"ER-2","m":"BSS","n":3300,"p":0.383},
{"d":8,"g":"ER-2","m":"Vanilla KLBSS","n":500,"p":0.266},{"d":8,"g":"ER-2","m":"Vanilla KLBSS","n":900,"p":0.363},{"d":8,"g":"ER-2","m":"Vanilla KLBSS","n":1300,"p":0.513},{"d":8,"g":"ER-2","m":"Vanilla KLBSS","n":1700,"p":0.569},{"d":8,"g":"ER-2","m":"Vanilla KLBSS","n":2100,"p":0.654},{"d":8,"g":"ER-2","m":"Vanilla KLBSS","n":2500,"p":0.678},{"d":8,"g":"ER-2","m":"Vanilla KLBSS","n":2900,"p":0.69},{"d":8,"g":"ER-2","m":"Vanilla KLBSS","n":3300,"p":0.734},
{"d":8,"g":"ER-2","m":"Simple KLBSS","n":500,"p":0.232},{"d":8,"g":"ER-2","m":"Simple KLBSS","n":900,"p":0.32},{"d":8,"g":"ER-2","m":"Simple KLBSS","n":1300,"p":0.429},{"d":8,"g":"ER-2","m":"Simple KLBSS","n":1700,"p":0.496},{"d":8,"g":"ER-2","m":"Simple KLBSS","n":2100,"p":0.533},{"d":8,"g":"ER-2","m":"Simple KLBSS","n":2500,"p":0.557},{"d":8,"g":"ER-2","m":"Simple KLBSS","n":2900,"p":0.605},{"d":8,"g":"ER-2","m":"Simple KLBSS","n":3300,"p":0.642},
{"d":8,"g":"ER-2","m":"Full KLBSS","n":500,"p":0.281},{"d":8,"g":"ER-2","m":"Full KLBSS","n":900,"p":0.4},{"d":8,"g":"ER-2","m":"Full KLBSS","n":1300,"p":0.479},{"d":8,"g":"ER-2","m":"Full KLBSS","n":1700,"p":0.545},{"d":8,"g":"ER-2","m":"Full KLBSS","n":2100,"p":0.581},{"d":8,"g":"ER-2","m":"Full KLBSS","n":2500,"p":0.6},{"d":8,"g":"ER-2","m":"Full KLBSS","n":2900,"p":0.661},{"d":8,"g":"ER-2","m":"Full KLBSS","n":3300,"p":0.678},
{"d":8,"g":"ER-2","m":"Lasso","n":500,"p":0.034},{"d":8,"g":"ER-2","m":"Lasso","n":900,"p":0.036},{"d":8,"g":"ER-2","m":"Lasso","n":1300,"p":0.031},{"d":8,"g":"ER-2","m":"Lasso","n":1700,"p":0.039},{"d":8,"g":"ER-2","m":"Lasso","n":2100,"p":0.024},{"d":8,"g":"ER-2","m":"Lasso","n":2500,"p":0.024},{"d":8,"g":"ER-2","m":"Lasso","n":2900,"p":0.019},{"d":8,"g":"ER-2","m":"Lasso","n":3300,"p":0.022},
{"d":8,"g":"ER-4","m":"BSS","n":500,"p":0.053},{"d":8,"g":"ER-4","m":"BSS","n":900,"p":0.097},{"d":8,"g":"ER-4","m":"BSS","n":1300,"p":0.126},{"d":8,"g":"ER-4","m":"BSS","n":1700,"p":0.155},{"d":8,"g":"ER-4","m":"BSS","n":2100,"p":0.179},{"d":8,"g":"ER-4","m":"BSS","n":2500,"p":0.257},{"d":8,"g":"ER-4","m":"BSS","n":2900,"p":0.262},{"d":8,"g":"ER-4","m":"BSS","n":3300,"p":0.339},
{"d":8,"g":"ER-4","m":"Vanilla KLBSS","n":500,"p":0.133},{"d":8,"g":"ER-4","m":"Vanilla KLBSS","n":900,"p":0.206},{"d":8,"g":"ER-4","m":"Vanilla KLBSS","n":1300,"p":0.329},{"d":8,"g":"ER-4","m":"Vanilla KLBSS","n":1700,"p":0.375},{"d":8,"g":"ER-4","m":"Vanilla KLBSS","n":2100,"p":0.395},{"d":8,"g":"ER-4","m":"Vanilla KLBSS","n":2500,"p":0.518},{"d":8,"g":"ER-4","m":"Vanilla KLBSS","n":2900,"p":0.516},{"d":8,"g":"ER-4","m":"Vanilla KLBSS","n":3300,"p":0.6},
{"d":8,"g":"ER-4","m":"Simple KLBSS","n":500,"p":0.14},{"d":8,"g":"ER-4","m":"Simple KLBSS","n":900,"p":0.213},{"d":8,"g":"ER-4","m":"Simple KLBSS","n":1300,"p":0.218},{"d":8,"g":"ER-4","m":"Simple KLBSS","n":1700,"p":0.286},{"d":8,"g":"ER-4","m":"Simple KLBSS","n":2100,"p":0.334},{"d":8,"g":"ER-4","m":"Simple KLBSS","n":2500,"p":0.392},{"d":8,"g":"ER-4","m":"Simple KLBSS","n":2900,"p":0.455},{"d":8,"g":"ER-4","m":"Simple KLBSS","n":3300,"p":0.552},
{"d":8,"g":"ER-4","m":"Full KLBSS","n":500,"p":0.157},{"d":8,"g":"ER-4","m":"Full KLBSS","n":900,"p":0.218},{"d":8,"g":"ER-4","m":"Full KLBSS","n":1300,"p":0.252},{"d":8,"g":"ER-4","m":"Full KLBSS","n":1700,"p":0.344},{"d":8,"g":"ER-4","m":"Full KLBSS","n":2100,"p":0.354},{"d":8,"g":"ER-4","m":"Full KLBSS","n":2500,"p":0.443},{"d":8,"g":"ER-4","m":"Full KLBSS","n":2900,"p":0.479},{"d":8,"g":"ER-4","m":"Full KLBSS","n":3300,"p":0.569},
{"d":8,"g":"ER-4","m":"Lasso","n":500,"p":0.022},{"d":8,"g":"ER-4","m":"Lasso","n":900,"p":0.017},{"d":8,"g":"ER-4","m":"Lasso","n":1300,"p":0.017},{"d":8,"g":"ER-4","m":"Lasso","n":1700,"p":0.017},{"d":8,"g":"ER-4","m":"Lasso","n":2100,"p":0.017},{"d":8,"g":"ER-4","m":"Lasso","n":2500,"p":0.022},{"d":8,"g":"ER-4","m":"Lasso","n":2900,"p":0.022},{"d":8,"g":"ER-4","m":"Lasso","n":3300,"p":0.024},
{"d":8,"g":"SF-1","m":"BSS","n":500,"p":0.262},{"d":8,"g":"SF-1","m":"BSS","n":900,"p":0.46},{"d":8,"g":"SF-1","m":"BSS","n":1300,"p":0.533},{"d":8,"g":"SF-1","m":"BSS","n":1700,"p":0.625},{"d":8,"g":"SF-1","m":"BSS","n":2100,"p":0.659},{"d":8,"g":"SF-1","m":"BSS","n":2500,"p":0.707},{"d":8,"g":"SF-1","m":"BSS","n":2900,"p":0.726},{"d":8,"g":"SF-1","m":"BSS","n":3300,"p":0.746},
{"d":8,"g":"SF-1","m":"Vanilla KLBSS","n":500,"p":0.489},{"d":8,"g":"SF-1","m":"Vanilla KLBSS","n":900,"p":0.654},{"d":8,"g":"SF-1","m":"Vanilla KLBSS","n":1300,"p":0.818},{"d":8,"g":"SF-1","m":"Vanilla KLBSS","n":1700,"p":0.852},{"d":8,"g":"SF-1","m":"Vanilla KLBSS","n":2100,"p":0.886},{"d":8,"g":"SF-1","m":"Vanilla KLBSS","n":2500,"p":0.92},{"d":8,"g":"SF-1","m":"Vanilla KLBSS","n":2900,"p":0.927},{"d":8,"g":"SF-1","m":"Vanilla KLBSS","n":3300,"p":0.969},
{"d":8,"g":"SF-1","m":"Simple KLBSS","n":500,"p":0.465},{"d":8,"g":"SF-1","m":"Simple KLBSS","n":900,"p":0.634},{"d":8,"g":"SF-1","m":"Simple KLBSS","n":1300,"p":0.799},{"d":8,"g":"SF-1","m":"Simple KLBSS","n":1700,"p":0.809},{"d":8,"g":"SF-1","m":"Simple KLBSS","n":2100,"p":0.877},{"d":8,"g":"SF-1","m":"Simple KLBSS","n":2500,"p":0.891},{"d":8,"g":"SF-1","m":"Simple KLBSS","n":2900,"p":0.891},{"d":8,"g":"SF-1","m":"Simple KLBSS","n":3300,"p":0.944},
{"d":8,"g":"SF-1","m":"Full KLBSS","n":500,"p":0.494},{"d":8,"g":"SF-1","m":"Full KLBSS","n":900,"p":0.654},{"d":8,"g":"SF-1","m":"Full KLBSS","n":1300,"p":0.814},{"d":8,"g":"SF-1","m":"Full KLBSS","n":1700,"p":0.843},{"d":8,"g":"SF-1","m":"Full KLBSS","n":2100,"p":0.881},{"d":8,"g":"SF-1","m":"Full KLBSS","n":2500,"p":0.91},{"d":8,"g":"SF-1","m":"Full KLBSS","n":2900,"p":0.906},{"d":8,"g":"SF-1","m":"Full KLBSS","n":3300,"p":0.956},
{"d":8,"g":"SF-1","m":"Lasso","n":500,"p":0.145},{"d":8,"g":"SF-1","m":"Lasso","n":900,"p":0.266},{"d":8,"g":"SF-1","m":"Lasso","n":1300,"p":0.266},{"d":8,"g":"SF-1","m":"Lasso","n":1700,"p":0.276},{"d":8,"g":"SF-1","m":"Lasso","n":2100,"p":0.3},{"d":8,"g":"SF-1","m":"Lasso","n":2500,"p":0.32},{"d":8,"g":"SF-1","m":"Lasso","n":2900,"p":0.305},{"d":8,"g":"SF-1","m":"Lasso","n":3300,"p":0.291},
{"d":8,"g":"SF-2","m":"BSS","n":500,"p":0.116},{"d":8,"g":"SF-2","m":"BSS","n":900,"p":0.254},{"d":8,"g":"SF-2","m":"BSS","n":1300,"p":0.32},{"d":8,"g":"SF-2","m":"BSS","n":1700,"p":0.419},{"d":8,"g":"SF-2","m":"BSS","n":2100,"p":0.424},{"d":8,"g":"SF-2","m":"BSS","n":2500,"p":0.46},{"d":8,"g":"SF-2","m":"BSS","n":2900,"p":0.479},{"d":8,"g":"SF-2","m":"BSS","n":3300,"p":0.567},
{"d":8,"g":"SF-2","m":"Vanilla KLBSS","n":500,"p":0.358},{"d":8,"g":"SF-2","m":"Vanilla KLBSS","n":900,"p":0.593},{"d":8,"g":"SF-2","m":"Vanilla KLBSS","n":1300,"p":0.654},{"d":8,"g":"SF-2","m":"Vanilla KLBSS","n":1700,"p":0.734},{"d":8,"g":"SF-2","m":"Vanilla KLBSS","n":2100,"p":0.775},{"d":8,"g":"SF-2","m":"Vanilla KLBSS","n":2500,"p":0.804},{"d":8,"g":"SF-2","m":"Vanilla KLBSS","n":2900,"p":0.831},{"d":8,"g":"SF-2","m":"Vanilla KLBSS","n":3300,"p":0.877},
{"d":8,"g":"SF-2","m":"Simple KLBSS","n":500,"p":0.266},{"d":8,"g":"SF-2","m":"Simple KLBSS","n":900,"p":0.496},{"d":8,"g":"SF-2","m":"Simple KLBSS","n":1300,"p":0.562},{"d":8,"g":"SF-2","m":"Simple KLBSS","n":1700,"p":0.673},{"d":8,"g":"SF-2","m":"Simple KLBSS","n":2100,"p":0.712},{"d":8,"g":"SF-2","m":"Simple KLBSS","n":2500,"p":0.707},{"d":8,"g":"SF-2","m":"Simple KLBSS","n":2900,"p":0.763},{"d":8,"g":"SF-2","m":"Simple KLBSS","n":3300,"p":0.843},
{"d":8,"g":"SF-2","m":"Full KLBSS","n":500,"p":0.332},{"d":8,"g":"SF-2","m":"Full KLBSS","n":900,"p":0.562},{"d":8,"g":"SF-2","m":"Full KLBSS","n":1300,"p":0.617},{"d":8,"g":"SF-2","m":"Full KLBSS","n":1700,"p":0.709},{"d":8,"g":"SF-2","m":"Full KLBSS","n":2100,"p":0.763},{"d":8,"g":"SF-2","m":"Full KLBSS","n":2500,"p":0.755},{"d":8,"g":"SF-2","m":"Full KLBSS","n":2900,"p":0.818},{"d":8,"g":"SF-2","m":"Full KLBSS","n":3300,"p":0.872},
{"d":8,"g":"SF-2","m":"Lasso","n":500,"p":0.09},{"d":8,"g":"SF-2","m":"Lasso","n":900,"p":0.099},{"d":8,"g":"SF-2","m":"Lasso","n":1300,"p":0.08},{"d":8,"g":"SF-2","m":"Lasso","n":1700,"p":0.092},{"d":8,"g":"SF-2","m":"Lasso","n":2100,"p":0.082},{"d":8,"g":"SF-2","m":"Lasso","n":2500,"p":0.087},{"d":8,"g":"SF-2","m":"Lasso","n":2900,"p":0.107},{"d":8,"g":"SF-2","m":"Lasso","n":3300,"p":0.097},
{"d":8,"g":"SF-4","m":"BSS","n":500,"p":0.048},{"d":8,"g":"SF-4","m":"BSS","n":900,"p":0.085},{"d":8,"g":"SF-4","m":"BSS","n":1300,"p":0.155},{"d":8,"g":"SF-4","m":"BSS","n":1700,"p":0.201},{"d":8,"g":"SF-4","m":"BSS","n":2100,"p":0.235},{"d":8,"g":"SF-4","m":"BSS","n":2500,"p":0.213},{"d":8,"g":"SF-4","m":"BSS","n":2900,"p":0.283},{"d":8,"g":"SF-4","m":"BSS","n":3300,"p":0.31},
{"d":8,"g":"SF-4","m":"Vanilla KLBSS","n":500,"p":0.182},{"d":8,"g":"SF-4","m":"Vanilla KLBSS","n":900,"p":0.278},{"d":8,"g":"SF-4","m":"Vanilla KLBSS","n":1300,"p":0.407},{"d":8,"g":"SF-4","m":"Vanilla KLBSS","n":1700,"p":0.508},{"d":8,"g":"SF-4","m":"Vanilla KLBSS","n":2100,"p":0.6},{"d":8,"g":"SF-4","m":"Vanilla KLBSS","n":2500,"p":0.63},{"d":8,"g":"SF-4","m":"Vanilla KLBSS","n":2900,"p":0.661},{"d":8,"g":"SF-4","m":"Vanilla KLBSS","n":3300,"p":0.707},
{"d":8,"g":"SF-4","m":"Simple KLBSS","n":500,"p":0.165},{"d":8,"g":"SF-4","m":"Simple KLBSS","n":900,"p":0.199},{"d":8,"g":"SF-4","m":"Simple KLBSS","n":1300,"p":0.31},{"d":8,"g":"SF-4","m":"Simple KLBSS","n":1700,"p":0.387},{"d":8,"g":"SF-4","m":"Simple KLBSS","n":2100,"p":0.46},{"d":8,"g":"SF-4","m":"Simple KLBSS","n":2500,"p":0.513},{"d":8,"g":"SF-4","m":"Simple KLBSS","n":2900,"p":0.525},{"d":8,"g":"SF-4","m":"Simple KLBSS","n":3300,"p":0.613},
{"d":8,"g":"SF-4","m":"Full KLBSS","n":500,"p":0.177},{"d":8,"g":"SF-4","m":"Full KLBSS","n":900,"p":0.247},{"d":8,"g":"SF-4","m":"Full KLBSS","n":1300,"p":0.368},{"d":8,"g":"SF-4","m":"Full KLBSS","n":1700,"p":0.455},{"d":8,"g":"SF-4","m":"Full KLBSS","n":2100,"p":0.518},{"d":8,"g":"SF-4","m":"Full KLBSS","n":2500,"p":0.576},{"d":8,"g":"SF-4","m":"Full KLBSS","n":2900,"p":0.6},{"d":8,"g":"SF-4","m":"Full KLBSS","n":3300,"p":0.663},
{"d":8,"g":"SF-4","m":"Lasso","n":500,"p":0.022},{"d":8,"g":"SF-4","m":"Lasso","n":900,"p":0.019},{"d":8,"g":"SF-4","m":"Lasso","n":1300,"p":0.022},{"d":8,"g":"SF-4","m":"Lasso","n":1700,"p":0.019},{"d":8,"g":"SF-4","m":"Lasso","n":2100,"p":0.019},{"d":8,"g":"SF-4","m":"Lasso","n":2500,"p":0.015},{"d":8,"g":"SF-4","m":"Lasso","n":2900,"p":0.017},{"d":8,"g":"SF-4","m":"Lasso","n":3300,"p":0.017},
{"d":9,"g":"ER-1","m":"BSS","n":500,"p":0.181},{"d":9,"g":"ER-1","m":"BSS","n":900,"p":0.307},{"d":9,"g":"ER-1","m":"BSS","n":1300,"p":0.372},{"d":9,"g":"ER-1","m":"BSS","n":1700,"p":0.44},{"d":9,"g":"ER-1","m":"BSS","n":2100,"p":0.476},{"d":9,"g":"ER-1","m":"BSS","n":2500,"p":0.539},{"d":9,"g":"ER-1","m":"BSS","n":2900,"p":0.565},{"d":9,"g":"ER-1","m":"BSS","n":3300,"p":0.621},
{"d":9,"g":"ER-1","m":"Vanilla KLBSS","n":500,"p":0.331},{"d":9,"g":"ER-1","m":"Vanilla KLBSS","n":900,"p":0.597},{"d":9,"g":"ER-1","m":"Vanilla KLBSS","n":1300,"p":0.674},{"d":9,"g":"ER-1","m":"Vanilla KLBSS","n":1700,"p":0.742},{"d":9,"g":"ER-1","m":"Vanilla KLBSS","n":2100,"p":0.756},{"d":9,"g":"ER-1","m":"Vanilla KLBSS","n":2500,"p":0.8},{"d":9,"g":"ER-1","m":"Vanilla KLBSS","n":2900,"p":0.833},{"d":9,"g":"ER-1","m":"Vanilla KLBSS","n":3300,"p":0.867},
{"d":9,"g":"ER-1","m":"Simple KLBSS","n":500,"p":0.302},{"d":9,"g":"ER-1","m":"Simple KLBSS","n":900,"p":0.539},{"d":9,"g":"ER-1","m":"Simple KLBSS","n":1300,"p":0.645},{"d":9,"g":"ER-1","m":"Simple KLBSS","n":1700,"p":0.703},{"d":9,"g":"ER-1","m":"Simple KLBSS","n":2100,"p":0.696},{"d":9,"g":"ER-1","m":"Simple KLBSS","n":2500,"p":0.761},{"d":9,"g":"ER-1","m":"Simple KLBSS","n":2900,"p":0.809},{"d":9,"g":"ER-1","m":"Simple KLBSS","n":3300,"p":0.831},
{"d":9,"g":"ER-1","m":"Full KLBSS","n":500,"p":0.324},{"d":9,"g":"ER-1","m":"Full KLBSS","n":900,"p":0.585},{"d":9,"g":"ER-1","m":"Full KLBSS","n":1300,"p":0.674},{"d":9,"g":"ER-1","m":"Full KLBSS","n":1700,"p":0.729},{"d":9,"g":"ER-1","m":"Full KLBSS","n":2100,"p":0.742},{"d":9,"g":"ER-1","m":"Full KLBSS","n":2500,"p":0.795},{"d":9,"g":"ER-1","m":"Full KLBSS","n":2900,"p":0.829},{"d":9,"g":"ER-1","m":"Full KLBSS","n":3300,"p":0.86},
{"d":9,"g":"ER-1","m":"Lasso","n":500,"p":0.104},{"d":9,"g":"ER-1","m":"Lasso","n":900,"p":0.138},{"d":9,"g":"ER-1","m":"Lasso","n":1300,"p":0.13},{"d":9,"g":"ER-1","m":"Lasso","n":1700,"p":0.121},{"d":9,"g":"ER-1","m":"Lasso","n":2100,"p":0.15},{"d":9,"g":"ER-1","m":"Lasso","n":2500,"p":0.164},{"d":9,"g":"ER-1","m":"Lasso","n":2900,"p":0.147},{"d":9,"g":"ER-1","m":"Lasso","n":3300,"p":0.181},
{"d":9,"g":"ER-2","m":"BSS","n":500,"p":0.082},{"d":9,"g":"ER-2","m":"BSS","n":900,"p":0.13},{"d":9,"g":"ER-2","m":"BSS","n":1300,"p":0.258},{"d":9,"g":"ER-2","m":"BSS","n":1700,"p":0.321},{"d":9,"g":"ER-2","m":"BSS","n":2100,"p":0.372},{"d":9,"g":"ER-2","m":"BSS","n":2500,"p":0.379},{"d":9,"g":"ER-2","m":"BSS","n":2900,"p":0.452},{"d":9,"g":"ER-2","m":"BSS","n":3300,"p":0.452},
{"d":9,"g":"ER-2","m":"Vanilla KLBSS","n":500,"p":0.258},{"d":9,"g":"ER-2","m":"Vanilla KLBSS","n":900,"p":0.457},{"d":9,"g":"ER-2","m":"Vanilla KLBSS","n":1300,"p":0.529},{"d":9,"g":"ER-2","m":"Vanilla KLBSS","n":1700,"p":0.621},{"d":9,"g":"ER-2","m":"Vanilla KLBSS","n":2100,"p":0.679},{"d":9,"g":"ER-2","m":"Vanilla KLBSS","n":2500,"p":0.722},{"d":9,"g":"ER-2","m":"Vanilla KLBSS","n":2900,"p":0.751},{"d":9,"g":"ER-2","m":"Vanilla KLBSS","n":3300,"p":0.751},
{"d":9,"g":"ER-2","m":"Simple KLBSS","n":500,"p":0.203},{"d":9,"g":"ER-2","m":"Simple KLBSS","n":900,"p":0.324},{"d":9,"g":"ER-2","m":"Simple KLBSS","n":1300,"p":0.437},{"d":9,"g":"ER-2","m":"Simple KLBSS","n":1700,"p":0.534},{"d":9,"g":"ER-2","m":"Simple KLBSS","n":2100,"p":0.592},{"d":9,"g":"ER-2","m":"Simple KLBSS","n":2500,"p":0.614},{"d":9,"g":"ER-2","m":"Simple KLBSS","n":2900,"p":0.679},{"d":9,"g":"ER-2","m":"Simple KLBSS","n":3300,"p":0.717},
{"d":9,"g":"ER-2","m":"Full KLBSS","n":500,"p":0.234},{"d":9,"g":"ER-2","m":"Full KLBSS","n":900,"p":0.389},{"d":9,"g":"ER-2","m":"Full KLBSS","n":1300,"p":0.49},{"d":9,"g":"ER-2","m":"Full KLBSS","n":1700,"p":0.565},{"d":9,"g":"ER-2","m":"Full KLBSS","n":2100,"p":0.626},{"d":9,"g":"ER-2","m":"Full KLBSS","n":2500,"p":0.659},{"d":9,"g":"ER-2","m":"Full KLBSS","n":2900,"p":0.713},{"d":9,"g":"ER-2","m":"Full KLBSS","n":3300,"p":0.742},
{"d":9,"g":"ER-2","m":"Lasso","n":500,"p":0.053},{"d":9,"g":"ER-2","m":"Lasso","n":900,"p":0.063},{"d":9,"g":"ER-2","m":"Lasso","n":1300,"p":0.06},{"d":9,"g":"ER-2","m":"Lasso","n":1700,"p":0.07},{"d":9,"g":"ER-2","m":"Lasso","n":2100,"p":0.075},{"d":9,"g":"ER-2","m":"Lasso","n":2500,"p":0.075},{"d":9,"g":"ER-2","m":"Lasso","n":2900,"p":0.089},{"d":9,"g":"ER-2","m":"Lasso","n":3300,"p":0.089},
{"d":9,"g":"ER-4","m":"BSS","n":500,"p":0.058},{"d":9,"g":"ER-4","m":"BSS","n":900,"p":0.08},{"d":9,"g":"ER-4","m":"BSS","n":1300,"p":0.094},{"d":9,"g":"ER-4","m":"BSS","n":1700,"p":0.123},{"d":9,"g":"ER-4","m":"BSS","n":2100,"p":0.184},{"d":9,"g":"ER-4","m":"BSS","n":2500,"p":0.22},{"d":9,"g":"ER-4","m":"BSS","n":2900,"p":0.254},{"d":9,"g":"ER-4","m":"BSS","n":3300,"p":0.234},
{"d":9,"g":"ER-4","m":"Vanilla KLBSS","n":500,"p":0.147},{"d":9,"g":"ER-4","m":"Vanilla KLBSS","n":900,"p":0.292},{"d":9,"g":"ER-4","m":"Vanilla KLBSS","n":1300,"p":0.295},{"d":9,"g":"ER-4","m":"Vanilla KLBSS","n":1700,"p":0.379},{"d":9,"g":"ER-4","m":"Vanilla KLBSS","n":2100,"p":0.452},{"d":9,"g":"ER-4","m":"Vanilla KLBSS","n":2500,"p":0.469},{"d":9,"g":"ER-4","m":"Vanilla KLBSS","n":2900,"p":0.539},{"d":9,"g":"ER-4","m":"Vanilla KLBSS","n":3300,"p":0.548},
{"d":9,"g":"ER-4","m":"Simple KLBSS","n":500,"p":0.167},{"d":9,"g":"ER-4","m":"Simple KLBSS","n":900,"p":0.198},{"d":9,"g":"ER-4","m":"Simple KLBSS","n":1300,"p":0.227},{"d":9,"g":"ER-4","m":"Simple KLBSS","n":1700,"p":0.316},{"d":9,"g":"ER-4","m":"Simple KLBSS","n":2100,"p":0.353},{"d":9,"g":"ER-4","m":"Simple KLBSS","n":2500,"p":0.355},{"d":9,"g":"ER-4","m":"Simple KLBSS","n":2900,"p":0.396},{"d":9,"g":"ER-4","m":"Simple KLBSS","n":3300,"p":0.442},
{"d":9,"g":"ER-4","m":"Full KLBSS","n":500,"p":0.171},{"d":9,"g":"ER-4","m":"Full KLBSS","n":900,"p":0.268},{"d":9,"g":"ER-4","m":"Full KLBSS","n":1300,"p":0.263},{"d":9,"g":"ER-4","m":"Full KLBSS","n":1700,"p":0.341},{"d":9,"g":"ER-4","m":"Full KLBSS","n":2100,"p":0.396},{"d":9,"g":"ER-4","m":"Full KLBSS","n":2500,"p":0.415},{"d":9,"g":"ER-4","m":"Full KLBSS","n":2900,"p":0.452},{"d":9,"g":"ER-4","m":"Full KLBSS","n":3300,"p":0.49},
{"d":9,"g":"ER-4","m":"Lasso","n":500,"p":0.024},{"d":9,"g":"ER-4","m":"Lasso","n":900,"p":0.022},{"d":9,"g":"ER-4","m":"Lasso","n":1300,"p":0.024},{"d":9,"g":"ER-4","m":"Lasso","n":1700,"p":0.024},{"d":9,"g":"ER-4","m":"Lasso","n":2100,"p":0.024},{"d":9,"g":"ER-4","m":"Lasso","n":2500,"p":0.029},{"d":9,"g":"ER-4","m":"Lasso","n":2900,"p":0.024},{"d":9,"g":"ER-4","m":"Lasso","n":3300,"p":0.024},
{"d":9,"g":"SF-1","m":"BSS","n":500,"p":0.251},{"d":9,"g":"SF-1","m":"BSS","n":900,"p":0.457},{"d":9,"g":"SF-1","m":"BSS","n":1300,"p":0.543},{"d":9,"g":"SF-1","m":"BSS","n":1700,"p":0.63},{"d":9,"g":"SF-1","m":"BSS","n":2100,"p":0.64},{"d":9,"g":"SF-1","m":"BSS","n":2500,"p":0.679},{"d":9,"g":"SF-1","m":"BSS","n":2900,"p":0.729},{"d":9,"g":"SF-1","m":"BSS","n":3300,"p":0.766},
{"d":9,"g":"SF-1","m":"Vanilla KLBSS","n":500,"p":0.444},{"d":9,"g":"SF-1","m":"Vanilla KLBSS","n":900,"p":0.626},{"d":9,"g":"SF-1","m":"Vanilla KLBSS","n":1300,"p":0.756},{"d":9,"g":"SF-1","m":"Vanilla KLBSS","n":1700,"p":0.814},{"d":9,"g":"SF-1","m":"Vanilla KLBSS","n":2100,"p":0.891},{"d":9,"g":"SF-1","m":"Vanilla KLBSS","n":2500,"p":0.92},{"d":9,"g":"SF-1","m":"Vanilla KLBSS","n":2900,"p":0.92},{"d":9,"g":"SF-1","m":"Vanilla KLBSS","n":3300,"p":0.949},
{"d":9,"g":"SF-1","m":"Simple KLBSS","n":500,"p":0.42},{"d":9,"g":"SF-1","m":"Simple KLBSS","n":900,"p":0.589},{"d":9,"g":"SF-1","m":"Simple KLBSS","n":1300,"p":0.717},{"d":9,"g":"SF-1","m":"Simple KLBSS","n":1700,"p":0.8},{"d":9,"g":"SF-1","m":"Simple KLBSS","n":2100,"p":0.855},{"d":9,"g":"SF-1","m":"Simple KLBSS","n":2500,"p":0.855},{"d":9,"g":"SF-1","m":"Simple KLBSS","n":2900,"p":0.874},{"d":9,"g":"SF-1","m":"Simple KLBSS","n":3300,"p":0.92},
{"d":9,"g":"SF-1","m":"Full KLBSS","n":500,"p":0.442},{"d":9,"g":"SF-1","m":"Full KLBSS","n":900,"p":0.614},{"d":9,"g":"SF-1","m":"Full KLBSS","n":1300,"p":0.746},{"d":9,"g":"SF-1","m":"Full KLBSS","n":1700,"p":0.807},{"d":9,"g":"SF-1","m":"Full KLBSS","n":2100,"p":0.867},{"d":9,"g":"SF-1","m":"Full KLBSS","n":2500,"p":0.896},{"d":9,"g":"SF-1","m":"Full KLBSS","n":2900,"p":0.891},{"d":9,"g":"SF-1","m":"Full KLBSS","n":3300,"p":0.935},
{"d":9,"g":"SF-1","m":"Lasso","n":500,"p":0.138},{"d":9,"g":"SF-1","m":"Lasso","n":900,"p":0.215},{"d":9,"g":"SF-1","m":"Lasso","n":1300,"p":0.234},{"d":9,"g":"SF-1","m":"Lasso","n":1700,"p":0.263},{"d":9,"g":"SF-1","m":"Lasso","n":2100,"p":0.263},{"d":9,"g":"SF-1","m":"Lasso","n":2500,"p":0.278},{"d":9,"g":"SF-1","m":"Lasso","n":2900,"p":0.273},{"d":9,"g":"SF-1","m":"Lasso","n":3300,"p":0.295},
{"d":9,"g":"SF-2","m":"BSS","n":500,"p":0.138},{"d":9,"g":"SF-2","m":"BSS","n":900,"p":0.234},{"d":9,"g":"SF-2","m":"BSS","n":1300,"p":0.365},{"d":9,"g":"SF-2","m":"BSS","n":1700,"p":0.425},{"d":9,"g":"SF-2","m":"BSS","n":2100,"p":0.493},{"d":9,"g":"SF-2","m":"BSS","n":2500,"p":0.558},{"d":9,"g":"SF-2","m":"BSS","n":2900,"p":0.635},{"d":9,"g":"SF-2","m":"BSS","n":3300,"p":0.65},
{"d":9,"g":"SF-2","m":"Vanilla KLBSS","n":500,"p":0.331},{"d":9,"g":"SF-2","m":"Vanilla KLBSS","n":900,"p":0.529},{"d":9,"g":"SF-2","m":"Vanilla KLBSS","n":1300,"p":0.727},{"d":9,"g":"SF-2","m":"Vanilla KLBSS","n":1700,"p":0.809},{"d":9,"g":"SF-2","m":"Vanilla KLBSS","n":2100,"p":0.867},{"d":9,"g":"SF-2","m":"Vanilla KLBSS","n":2500,"p":0.901},{"d":9,"g":"SF-2","m":"Vanilla KLBSS","n":2900,"p":0.903},{"d":9,"g":"SF-2","m":"Vanilla KLBSS","n":3300,"p":0.92},
{"d":9,"g":"SF-2","m":"Simple KLBSS","n":500,"p":0.268},{"d":9,"g":"SF-2","m":"Simple KLBSS","n":900,"p":0.476},{"d":9,"g":"SF-2","m":"Simple KLBSS","n":1300,"p":0.635},{"d":9,"g":"SF-2","m":"Simple KLBSS","n":1700,"p":0.722},{"d":9,"g":"SF-2","m":"Simple KLBSS","n":2100,"p":0.804},{"d":9,"g":"SF-2","m":"Simple KLBSS","n":2500,"p":0.809},{"d":9,"g":"SF-2","m":"Simple KLBSS","n":2900,"p":0.853},{"d":9,"g":"SF-2","m":"Simple KLBSS","n":3300,"p":0.862},
{"d":9,"g":"SF-2","m":"Full KLBSS","n":500,"p":0.302},{"d":9,"g":"SF-2","m":"Full KLBSS","n":900,"p":0.529},{"d":9,"g":"SF-2","m":"Full KLBSS","n":1300,"p":0.698},{"d":9,"g":"SF-2","m":"Full KLBSS","n":1700,"p":0.746},{"d":9,"g":"SF-2","m":"Full KLBSS","n":2100,"p":0.824},{"d":9,"g":"SF-2","m":"Full KLBSS","n":2500,"p":0.853},{"d":9,"g":"SF-2","m":"Full KLBSS","n":2900,"p":0.877},{"d":9,"g":"SF-2","m":"Full KLBSS","n":3300,"p":0.891},
{"d":9,"g":"SF-2","m":"Lasso","n":500,"p":0.075},{"d":9,"g":"SF-2","m":"Lasso","n":900,"p":0.065},{"d":9,"g":"SF-2","m":"Lasso","n":1300,"p":0.089},{"d":9,"g":"SF-2","m":"Lasso","n":1700,"p":0.099},{"d":9,"g":"SF-2","m":"Lasso","n":2100,"p":0.099},{"d":9,"g":"SF-2","m":"Lasso","n":2500,"p":0.104},{"d":9,"g":"SF-2","m":"Lasso","n":2900,"p":0.109},{"d":9,"g":"SF-2","m":"Lasso","n":3300,"p":0.109},
{"d":9,"g":"SF-4","m":"BSS","n":500,"p":0.065},{"d":9,"g":"SF-4","m":"BSS","n":900,"p":0.13},{"d":9,"g":"SF-4","m":"BSS","n":1300,"p":0.22},{"d":9,"g":"SF-4","m":"BSS","n":1700,"p":0.287},{"d":9,"g":"SF-4","m":"BSS","n":2100,"p":0.28},{"d":9,"g":"SF-4","m":"BSS","n":2500,"p":0.312},{"d":9,"g":"SF-4","m":"BSS","n":2900,"p":0.377},{"d":9,"g":"SF-4","m":"BSS","n":3300,"p":0.389},
{"d":9,"g":"SF-4","m":"Vanilla KLBSS","n":500,"p":0.215},{"d":9,"g":"SF-4","m":"Vanilla KLBSS","n":900,"p":0.42},{"d":9,"g":"SF-4","m":"Vanilla KLBSS","n":1300,"p":0.517},{"d":9,"g":"SF-4","m":"Vanilla KLBSS","n":1700,"p":0.614},{"d":9,"g":"SF-4","m":"Vanilla KLBSS","n":2100,"p":0.645},{"d":9,"g":"SF-4","m":"Vanilla KLBSS","n":2500,"p":0.727},{"d":9,"g":"SF-4","m":"Vanilla KLBSS","n":2900,"p":0.754},{"d":9,"g":"SF-4","m":"Vanilla KLBSS","n":3300,"p":0.754},
{"d":9,"g":"SF-4","m":"Simple KLBSS","n":500,"p":0.162},{"d":9,"g":"SF-4","m":"Simple KLBSS","n":900,"p":0.331},{"d":9,"g":"SF-4","m":"Simple KLBSS","n":1300,"p":0.432},{"d":9,"g":"SF-4","m":"Simple KLBSS","n":1700,"p":0.457},{"d":9,"g":"SF-4","m":"Simple KLBSS","n":2100,"p":0.529},{"d":9,"g":"SF-4","m":"Simple KLBSS","n":2500,"p":0.597},{"d":9,"g":"SF-4","m":"Simple KLBSS","n":2900,"p":0.659},{"d":9,"g":"SF-4","m":"Simple KLBSS","n":3300,"p":0.686},
{"d":9,"g":"SF-4","m":"Full KLBSS","n":500,"p":0.227},{"d":9,"g":"SF-4","m":"Full KLBSS","n":900,"p":0.384},{"d":9,"g":"SF-4","m":"Full KLBSS","n":1300,"p":0.457},{"d":9,"g":"SF-4","m":"Full KLBSS","n":1700,"p":0.565},{"d":9,"g":"SF-4","m":"Full KLBSS","n":2100,"p":0.614},{"d":9,"g":"SF-4","m":"Full KLBSS","n":2500,"p":0.684},{"d":9,"g":"SF-4","m":"Full KLBSS","n":2900,"p":0.739},{"d":9,"g":"SF-4","m":"Full KLBSS","n":3300,"p":0.742},
{"d":9,"g":"SF-4","m":"Lasso","n":500,"p":0.01},{"d":9,"g":"SF-4","m":"Lasso","n":900,"p":0.005},{"d":9,"g":"SF-4","m":"Lasso","n":1300,"p":0.007},{"d":9,"g":"SF-4","m":"Lasso","n":1700,"p":0.007},{"d":9,"g":"SF-4","m":"Lasso","n":2100,"p":0.017},{"d":9,"g":"SF-4","m":"Lasso","n":2500,"p":0.012},{"d":9,"g":"SF-4","m":"Lasso","n":2900,"p":0.012},{"d":9,"g":"SF-4","m":"Lasso","n":3300,"p":0.012},
{"d":10,"g":"ER-1","m":"BSS","n":500,"p":0.169},{"d":10,"g":"ER-1","m":"BSS","n":900,"p":0.291},{"d":10,"g":"ER-1","m":"BSS","n":1300,"p":0.337},{"d":10,"g":"ER-1","m":"BSS","n":1700,"p":0.395},{"d":10,"g":"ER-1","m":"BSS","n":2100,"p":0.436},{"d":10,"g":"ER-1","m":"BSS","n":2500,"p":0.448},{"d":10,"g":"ER-1","m":"BSS","n":2900,"p":0.55},{"d":10,"g":"ER-1","m":"BSS","n":3300,"p":0.571},
{"d":10,"g":"ER-1","m":"Vanilla KLBSS","n":500,"p":0.351},{"d":10,"g":"ER-1","m":"Vanilla KLBSS","n":900,"p":0.61},{"d":10,"g":"ER-1","m":"Vanilla KLBSS","n":1300,"p":0.726},{"d":10,"g":"ER-1","m":"Vanilla KLBSS","n":1700,"p":0.76},{"d":10,"g":"ER-1","m":"Vanilla KLBSS","n":2100,"p":0.816},{"d":10,"g":"ER-1","m":"Vanilla KLBSS","n":2500,"p":0.845},{"d":10,"g":"ER-1","m":"Vanilla KLBSS","n":2900,"p":0.879},{"d":10,"g":"ER-1","m":"Vanilla KLBSS","n":3300,"p":0.889},
{"d":10,"g":"ER-1","m":"Simple KLBSS","n":500,"p":0.332},{"d":10,"g":"ER-1","m":"Simple KLBSS","n":900,"p":0.538},{"d":10,"g":"ER-1","m":"Simple KLBSS","n":1300,"p":0.61},{"d":10,"g":"ER-1","m":"Simple KLBSS","n":1700,"p":0.724},{"d":10,"g":"ER-1","m":"Simple KLBSS","n":2100,"p":0.76},{"d":10,"g":"ER-1","m":"Simple KLBSS","n":2500,"p":0.801},{"d":10,"g":"ER-1","m":"Simple KLBSS","n":2900,"p":0.835},{"d":10,"g":"ER-1","m":"Simple KLBSS","n":3300,"p":0.864},
{"d":10,"g":"ER-1","m":"Full KLBSS","n":500,"p":0.344},{"d":10,"g":"ER-1","m":"Full KLBSS","n":900,"p":0.569},{"d":10,"g":"ER-1","m":"Full KLBSS","n":1300,"p":0.646},{"d":10,"g":"ER-1","m":"Full KLBSS","n":1700,"p":0.748},{"d":10,"g":"ER-1","m":"Full KLBSS","n":2100,"p":0.78},{"d":10,"g":"ER-1","m":"Full KLBSS","n":2500,"p":0.821},{"d":10,"g":"ER-1","m":"Full KLBSS","n":2900,"p":0.855},{"d":10,"g":"ER-1","m":"Full KLBSS","n":3300,"p":0.877},
{"d":10,"g":"ER-1","m":"Lasso","n":500,"p":0.094},{"d":10,"g":"ER-1","m":"Lasso","n":900,"p":0.107},{"d":10,"g":"ER-1","m":"Lasso","n":1300,"p":0.145},{"d":10,"g":"ER-1","m":"Lasso","n":1700,"p":0.157},{"d":10,"g":"ER-1","m":"Lasso","n":2100,"p":0.162},{"d":10,"g":"ER-1","m":"Lasso","n":2500,"p":0.169},{"d":10,"g":"ER-1","m":"Lasso","n":2900,"p":0.165},{"d":10,"g":"ER-1","m":"Lasso","n":3300,"p":0.191},
{"d":10,"g":"ER-2","m":"BSS","n":500,"p":0.114},{"d":10,"g":"ER-2","m":"BSS","n":900,"p":0.184},{"d":10,"g":"ER-2","m":"BSS","n":1300,"p":0.23},{"d":10,"g":"ER-2","m":"BSS","n":1700,"p":0.327},{"d":10,"g":"ER-2","m":"BSS","n":2100,"p":0.322},{"d":10,"g":"ER-2","m":"BSS","n":2500,"p":0.375},{"d":10,"g":"ER-2","m":"BSS","n":2900,"p":0.424},{"d":10,"g":"ER-2","m":"BSS","n":3300,"p":0.424},
{"d":10,"g":"ER-2","m":"Vanilla KLBSS","n":500,"p":0.247},{"d":10,"g":"ER-2","m":"Vanilla KLBSS","n":900,"p":0.477},{"d":10,"g":"ER-2","m":"Vanilla KLBSS","n":1300,"p":0.581},{"d":10,"g":"ER-2","m":"Vanilla KLBSS","n":1700,"p":0.622},{"d":10,"g":"ER-2","m":"Vanilla KLBSS","n":2100,"p":0.695},{"d":10,"g":"ER-2","m":"Vanilla KLBSS","n":2500,"p":0.726},{"d":10,"g":"ER-2","m":"Vanilla KLBSS","n":2900,"p":0.748},{"d":10,"g":"ER-2","m":"Vanilla KLBSS","n":3300,"p":0.785},
{"d":10,"g":"ER-2","m":"Simple KLBSS","n":500,"p":0.194},{"d":10,"g":"ER-2","m":"Simple KLBSS","n":900,"p":0.368},{"d":10,"g":"ER-2","m":"Simple KLBSS","n":1300,"p":0.412},{"d":10,"g":"ER-2","m":"Simple KLBSS","n":1700,"p":0.513},{"d":10,"g":"ER-2","m":"Simple KLBSS","n":2100,"p":0.562},{"d":10,"g":"ER-2","m":"Simple KLBSS","n":2500,"p":0.646},{"d":10,"g":"ER-2","m":"Simple KLBSS","n":2900,"p":0.671},{"d":10,"g":"ER-2","m":"Simple KLBSS","n":3300,"p":0.688},
{"d":10,"g":"ER-2","m":"Full KLBSS","n":500,"p":0.235},{"d":10,"g":"ER-2","m":"Full KLBSS","n":900,"p":0.424},{"d":10,"g":"ER-2","m":"Full KLBSS","n":1300,"p":0.489},{"d":10,"g":"ER-2","m":"Full KLBSS","n":1700,"p":0.554},{"d":10,"g":"ER-2","m":"Full KLBSS","n":2100,"p":0.622},{"d":10,"g":"ER-2","m":"Full KLBSS","n":2500,"p":0.678},{"d":10,"g":"ER-2","m":"Full KLBSS","n":2900,"p":0.714},{"d":10,"g":"ER-2","m":"Full KLBSS","n":3300,"p":0.731},
{"d":10,"g":"ER-2","m":"Lasso","n":500,"p":0.024},{"d":10,"g":"ER-2","m":"Lasso","n":900,"p":0.01},{"d":10,"g":"ER-2","m":"Lasso","n":1300,"p":0.012},{"d":10,"g":"ER-2","m":"Lasso","n":1700,"p":0.024},{"d":10,"g":"ER-2","m":"Lasso","n":2100,"p":0.036},{"d":10,"g":"ER-2","m":"Lasso","n":2500,"p":0.012},{"d":10,"g":"ER-2","m":"Lasso","n":2900,"p":0.029},{"d":10,"g":"ER-2","m":"Lasso","n":3300,"p":0.024},
{"d":10,"g":"ER-4","m":"BSS","n":500,"p":0.022},{"d":10,"g":"ER-4","m":"BSS","n":900,"p":0.077},{"d":10,"g":"ER-4","m":"BSS","n":1300,"p":0.172},{"d":10,"g":"ER-4","m":"BSS","n":1700,"p":0.126},{"d":10,"g":"ER-4","m":"BSS","n":2100,"p":0.215},{"d":10,"g":"ER-4","m":"BSS","n":2500,"p":0.215},{"d":10,"g":"ER-4","m":"BSS","n":2900,"p":0.242},{"d":10,"g":"ER-4","m":"BSS","n":3300,"p":0.247},
{"d":10,"g":"ER-4","m":"Vanilla KLBSS","n":500,"p":0.126},{"d":10,"g":"ER-4","m":"Vanilla KLBSS","n":900,"p":0.283},{"d":10,"g":"ER-4","m":"Vanilla KLBSS","n":1300,"p":0.404},{"d":10,"g":"ER-4","m":"Vanilla KLBSS","n":1700,"p":0.489},{"d":10,"g":"ER-4","m":"Vanilla KLBSS","n":2100,"p":0.545},{"d":10,"g":"ER-4","m":"Vanilla KLBSS","n":2500,"p":0.627},{"d":10,"g":"ER-4","m":"Vanilla KLBSS","n":2900,"p":0.659},{"d":10,"g":"ER-4","m":"Vanilla KLBSS","n":3300,"p":0.659},
{"d":10,"g":"ER-4","m":"Simple KLBSS","n":500,"p":0.077},{"d":10,"g":"ER-4","m":"Simple KLBSS","n":900,"p":0.223},{"d":10,"g":"ER-4","m":"Simple KLBSS","n":1300,"p":0.283},{"d":10,"g":"ER-4","m":"Simple KLBSS","n":1700,"p":0.322},{"d":10,"g":"ER-4","m":"Simple KLBSS","n":2100,"p":0.404},{"d":10,"g":"ER-4","m":"Simple KLBSS","n":2500,"p":0.424},{"d":10,"g":"ER-4","m":"Simple KLBSS","n":2900,"p":0.424},{"d":10,"g":"ER-4","m":"Simple KLBSS","n":3300,"p":0.462},
{"d":10,"g":"ER-4","m":"Full KLBSS","n":500,"p":0.109},{"d":10,"g":"ER-4","m":"Full KLBSS","n":900,"p":0.259},{"d":10,"g":"ER-4","m":"Full KLBSS","n":1300,"p":0.332},{"d":10,"g":"ER-4","m":"Full KLBSS","n":1700,"p":0.373},{"d":10,"g":"ER-4","m":"Full KLBSS","n":2100,"p":0.458},{"d":10,"g":"ER-4","m":"Full KLBSS","n":2500,"p":0.487},{"d":10,"g":"ER-4","m":"Full KLBSS","n":2900,"p":0.525},{"d":10,"g":"ER-4","m":"Full KLBSS","n":3300,"p":0.554},
{"d":10,"g":"ER-4","m":"Lasso","n":500,"p":0.012},{"d":10,"g":"ER-4","m":"Lasso","n":900,"p":0.022},{"d":10,"g":"ER-4","m":"Lasso","n":1300,"p":0.019},{"d":10,"g":"ER-4","m":"Lasso","n":1700,"p":0.019},{"d":10,"g":"ER-4","m":"Lasso","n":2100,"p":0.019},{"d":10,"g":"ER-4","m":"Lasso","n":2500,"p":0.012},{"d":10,"g":"ER-4","m":"Lasso","n":2900,"p":0.015},{"d":10,"g":"ER-4","m":"Lasso","n":3300,"p":0.015},
{"d":10,"g":"SF-1","m":"BSS","n":500,"p":0.218},{"d":10,"g":"SF-1","m":"BSS","n":900,"p":0.39},{"d":10,"g":"SF-1","m":"BSS","n":1300,"p":0.554},{"d":10,"g":"SF-1","m":"BSS","n":1700,"p":0.663},{"d":10,"g":"SF-1","m":"BSS","n":2100,"p":0.685},{"d":10,"g":"SF-1","m":"BSS","n":2500,"p":0.746},{"d":10,"g":"SF-1","m":"BSS","n":2900,"p":0.76},{"d":10,"g":"SF-1","m":"BSS","n":3300,"p":0.809},
{"d":10,"g":"SF-1","m":"Vanilla KLBSS","n":500,"p":0.39},{"d":10,"g":"SF-1","m":"Vanilla KLBSS","n":900,"p":0.646},{"d":10,"g":"SF-1","m":"Vanilla KLBSS","n":1300,"p":0.787},{"d":10,"g":"SF-1","m":"Vanilla KLBSS","n":1700,"p":0.869},{"d":10,"g":"SF-1","m":"Vanilla KLBSS","n":2100,"p":0.918},{"d":10,"g":"SF-1","m":"Vanilla KLBSS","n":2500,"p":0.927},{"d":10,"g":"SF-1","m":"Vanilla KLBSS","n":2900,"p":0.942},{"d":10,"g":"SF-1","m":"Vanilla KLBSS","n":3300,"p":0.966},
{"d":10,"g":"SF-1","m":"Simple KLBSS","n":500,"p":0.38},{"d":10,"g":"SF-1","m":"Simple KLBSS","n":900,"p":0.617},{"d":10,"g":"SF-1","m":"Simple KLBSS","n":1300,"p":0.748},{"d":10,"g":"SF-1","m":"Simple KLBSS","n":1700,"p":0.85},{"d":10,"g":"SF-1","m":"Simple KLBSS","n":2100,"p":0.908},{"d":10,"g":"SF-1","m":"Simple KLBSS","n":2500,"p":0.913},{"d":10,"g":"SF-1","m":"Simple KLBSS","n":2900,"p":0.932},{"d":10,"g":"SF-1","m":"Simple KLBSS","n":3300,"p":0.937},
{"d":10,"g":"SF-1","m":"Full KLBSS","n":500,"p":0.385},{"d":10,"g":"SF-1","m":"Full KLBSS","n":900,"p":0.642},{"d":10,"g":"SF-1","m":"Full KLBSS","n":1300,"p":0.775},{"d":10,"g":"SF-1","m":"Full KLBSS","n":1700,"p":0.864},{"d":10,"g":"SF-1","m":"Full KLBSS","n":2100,"p":0.913},{"d":10,"g":"SF-1","m":"Full KLBSS","n":2500,"p":0.918},{"d":10,"g":"SF-1","m":"Full KLBSS","n":2900,"p":0.947},{"d":10,"g":"SF-1","m":"Full KLBSS","n":3300,"p":0.956},
{"d":10,"g":"SF-1","m":"Lasso","n":500,"p":0.143},{"d":10,"g":"SF-1","m":"Lasso","n":900,"p":0.208},{"d":10,"g":"SF-1","m":"Lasso","n":1300,"p":0.288},{"d":10,"g":"SF-1","m":"Lasso","n":1700,"p":0.303},{"d":10,"g":"SF-1","m":"Lasso","n":2100,"p":0.324},{"d":10,"g":"SF-1","m":"Lasso","n":2500,"p":0.344},{"d":10,"g":"SF-1","m":"Lasso","n":2900,"p":0.337},{"d":10,"g":"SF-1","m":"Lasso","n":3300,"p":0.361},
{"d":10,"g":"SF-2","m":"BSS","n":500,"p":0.15},{"d":10,"g":"SF-2","m":"BSS","n":900,"p":0.266},{"d":10,"g":"SF-2","m":"BSS","n":1300,"p":0.351},{"d":10,"g":"SF-2","m":"BSS","n":1700,"p":0.446},{"d":10,"g":"SF-2","m":"BSS","n":2100,"p":0.477},{"d":10,"g":"SF-2","m":"BSS","n":2500,"p":0.545},{"d":10,"g":"SF-2","m":"BSS","n":2900,"p":0.586},{"d":10,"g":"SF-2","m":"BSS","n":3300,"p":0.666},
{"d":10,"g":"SF-2","m":"Vanilla KLBSS","n":500,"p":0.387},{"d":10,"g":"SF-2","m":"Vanilla KLBSS","n":900,"p":0.559},{"d":10,"g":"SF-2","m":"Vanilla KLBSS","n":1300,"p":0.719},{"d":10,"g":"SF-2","m":"Vanilla KLBSS","n":1700,"p":0.772},{"d":10,"g":"SF-2","m":"Vanilla KLBSS","n":2100,"p":0.811},{"d":10,"g":"SF-2","m":"Vanilla KLBSS","n":2500,"p":0.884},{"d":10,"g":"SF-2","m":"Vanilla KLBSS","n":2900,"p":0.884},{"d":10,"g":"SF-2","m":"Vanilla KLBSS","n":3300,"p":0.932},
{"d":10,"g":"SF-2","m":"Simple KLBSS","n":500,"p":0.324},{"d":10,"g":"SF-2","m":"Simple KLBSS","n":900,"p":0.482},{"d":10,"g":"SF-2","m":"Simple KLBSS","n":1300,"p":0.598},{"d":10,"g":"SF-2","m":"Simple KLBSS","n":1700,"p":0.683},{"d":10,"g":"SF-2","m":"Simple KLBSS","n":2100,"p":0.726},{"d":10,"g":"SF-2","m":"Simple KLBSS","n":2500,"p":0.816},{"d":10,"g":"SF-2","m":"Simple KLBSS","n":2900,"p":0.835},{"d":10,"g":"SF-2","m":"Simple KLBSS","n":3300,"p":0.869},
{"d":10,"g":"SF-2","m":"Full KLBSS","n":500,"p":0.38},{"d":10,"g":"SF-2","m":"Full KLBSS","n":900,"p":0.525},{"d":10,"g":"SF-2","m":"Full KLBSS","n":1300,"p":0.654},{"d":10,"g":"SF-2","m":"Full KLBSS","n":1700,"p":0.726},{"d":10,"g":"SF-2","m":"Full KLBSS","n":2100,"p":0.763},{"d":10,"g":"SF-2","m":"Full KLBSS","n":2500,"p":0.826},{"d":10,"g":"SF-2","m":"Full KLBSS","n":2900,"p":0.855},{"d":10,"g":"SF-2","m":"Full KLBSS","n":3300,"p":0.881},
{"d":10,"g":"SF-2","m":"Lasso","n":500,"p":0.07},{"d":10,"g":"SF-2","m":"Lasso","n":900,"p":0.099},{"d":10,"g":"SF-2","m":"Lasso","n":1300,"p":0.104},{"d":10,"g":"SF-2","m":"Lasso","n":1700,"p":0.119},{"d":10,"g":"SF-2","m":"Lasso","n":2100,"p":0.119},{"d":10,"g":"SF-2","m":"Lasso","n":2500,"p":0.123},{"d":10,"g":"SF-2","m":"Lasso","n":2900,"p":0.138},{"d":10,"g":"SF-2","m":"Lasso","n":3300,"p":0.148},
{"d":10,"g":"SF-4","m":"BSS","n":500,"p":0.065},{"d":10,"g":"SF-4","m":"BSS","n":900,"p":0.157},{"d":10,"g":"SF-4","m":"BSS","n":1300,"p":0.228},{"d":10,"g":"SF-4","m":"BSS","n":1700,"p":0.312},{"d":10,"g":"SF-4","m":"BSS","n":2100,"p":0.332},{"d":10,"g":"SF-4","m":"BSS","n":2500,"p":0.38},{"d":10,"g":"SF-4","m":"BSS","n":2900,"p":0.453},{"d":10,"g":"SF-4","m":"BSS","n":3300,"p":0.465},
{"d":10,"g":"SF-4","m":"Vanilla KLBSS","n":500,"p":0.283},{"d":10,"g":"SF-4","m":"Vanilla KLBSS","n":900,"p":0.433},{"d":10,"g":"SF-4","m":"Vanilla KLBSS","n":1300,"p":0.513},{"d":10,"g":"SF-4","m":"Vanilla KLBSS","n":1700,"p":0.659},{"d":10,"g":"SF-4","m":"Vanilla KLBSS","n":2100,"p":0.726},{"d":10,"g":"SF-4","m":"Vanilla KLBSS","n":2500,"p":0.751},{"d":10,"g":"SF-4","m":"Vanilla KLBSS","n":2900,"p":0.806},{"d":10,"g":"SF-4","m":"Vanilla KLBSS","n":3300,"p":0.816},
{"d":10,"g":"SF-4","m":"Simple KLBSS","n":500,"p":0.206},{"d":10,"g":"SF-4","m":"Simple KLBSS","n":900,"p":0.341},{"d":10,"g":"SF-4","m":"Simple KLBSS","n":1300,"p":0.448},{"d":10,"g":"SF-4","m":"Simple KLBSS","n":1700,"p":0.562},{"d":10,"g":"SF-4","m":"Simple KLBSS","n":2100,"p":0.666},{"d":10,"g":"SF-4","m":"Simple KLBSS","n":2500,"p":0.646},{"d":10,"g":"SF-4","m":"Simple KLBSS","n":2900,"p":0.695},{"d":10,"g":"SF-4","m":"Simple KLBSS","n":3300,"p":0.724},
{"d":10,"g":"SF-4","m":"Full KLBSS","n":500,"p":0.23},{"d":10,"g":"SF-4","m":"Full KLBSS","n":900,"p":0.416},{"d":10,"g":"SF-4","m":"Full KLBSS","n":1300,"p":0.506},{"d":10,"g":"SF-4","m":"Full KLBSS","n":1700,"p":0.622},{"d":10,"g":"SF-4","m":"Full KLBSS","n":2100,"p":0.714},{"d":10,"g":"SF-4","m":"Full KLBSS","n":2500,"p":0.714},{"d":10,"g":"SF-4","m":"Full KLBSS","n":2900,"p":0.76},{"d":10,"g":"SF-4","m":"Full KLBSS","n":3300,"p":0.792},
{"d":10,"g":"SF-4","m":"Lasso","n":500,"p":0.019},{"d":10,"g":"SF-4","m":"Lasso","n":900,"p":0.012},{"d":10,"g":"SF-4","m":"Lasso","n":1300,"p":0.002},{"d":10,"g":"SF-4","m":"Lasso","n":1700,"p":0.007},{"d":10,"g":"SF-4","m":"Lasso","n":2100,"p":0.017},{"d":10,"g":"SF-4","m":"Lasso","n":2500,"p":0.027},{"d":10,"g":"SF-4","m":"Lasso","n":2900,"p":0.027},{"d":10,"g":"SF-4","m":"Lasso","n":3300,"p":0.027}
]},
"bounds":"flush",
"facet":{
"row":{"field":"d","type":"ordinal","sort":"ascending","header":{"labelExpr":"'d = ' + datum.value","labelPadding":6}},
"column":{"field":"g","type":"nominal","sort":"ascending","header":{"labelPadding":4}}
},
"spacing":{"row":7,"column":9},
"spec":{
"width":179,"height":152,
"mark":{"type":"line","strokeWidth":2.2,"opacity":0.7},
"encoding":{
"x":{"field":"n","type":"quantitative","scale":{"domain":[360,3440],"nice":false,"zero":false},"axis":{"values":[1000,2000,3000],"format":"d","labelPadding":5}},
"y":{"field":"p","type":"quantitative","scale":{"domain":[-0.048,1.048],"nice":false,"zero":false},"axis":{"values":[0,0.25,0.5,0.75,1],"format":".2f"}},
"color":{"field":"m","type":"nominal","scale":{"domain":["BSS","Vanilla KLBSS","Simple KLBSS","Full KLBSS","Lasso"],"range":["#d62728","#1f77b4","#2ca02c","#9467bd","#8c564b"]},
"legend":{"orient":"none","legendX":297,"legendY":813,"columns":3,"title":null,"symbolType":"M-1,0H4","symbolSize":256,"symbolStrokeWidth":4.3,"symbolOpacity":0.8,"labelFontSize":15.5,"labelFont":"DejaVu Sans","labelColor":"#000","strokeColor":"#d0d0d0","fillColor":"#fff","padding":6,"cornerRadius":3,"rowPadding":7,"columnPadding":30,"labelOffset":37}},
"detail":{"field":"m"}
}
}
}
